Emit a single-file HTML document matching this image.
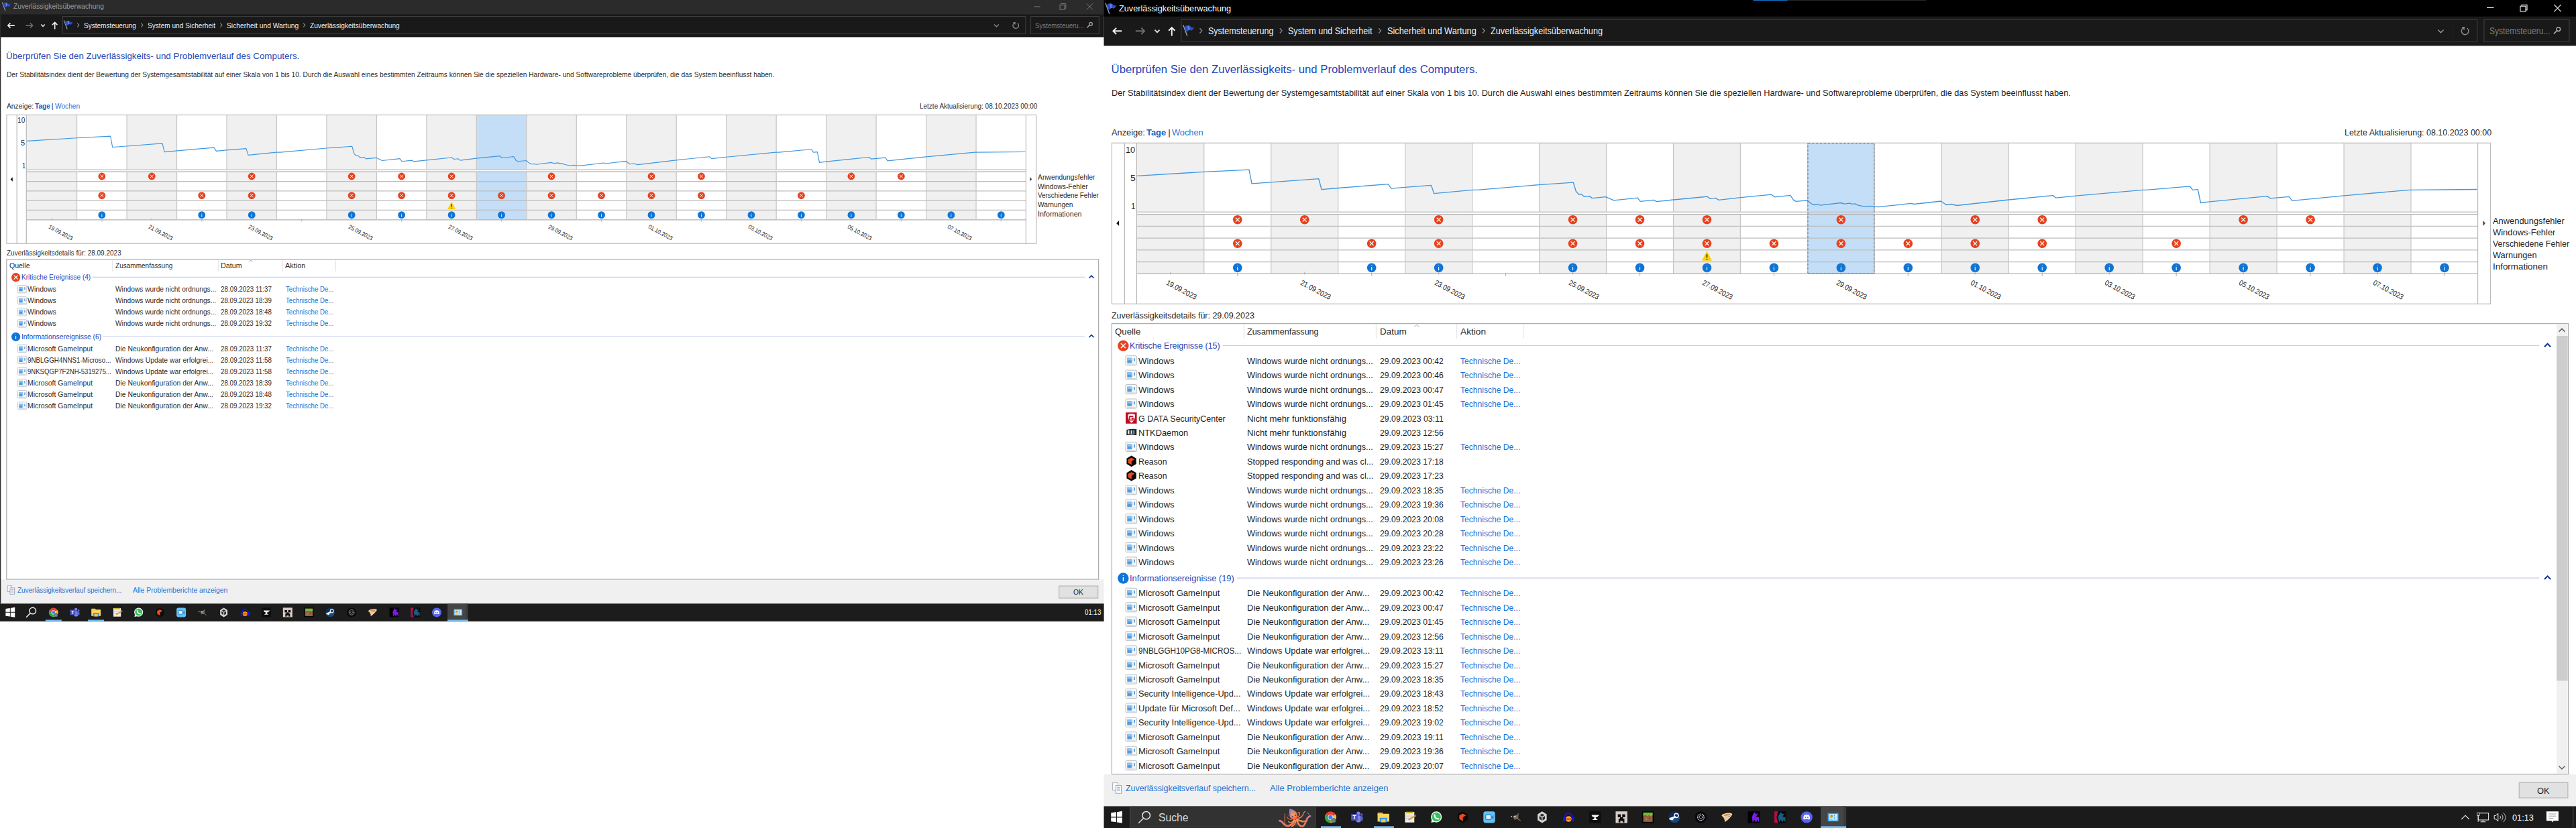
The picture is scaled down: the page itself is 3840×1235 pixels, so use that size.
<!DOCTYPE html>
<html lang="de"><head><meta charset="utf-8"><title>Zuverlässigkeitsüberwachung</title>
<style>
html,body{margin:0;padding:0;background:#fff;}
body{width:3840px;height:1235px;position:relative;overflow:hidden;font-family:"Liberation Sans", sans-serif;}
#g{position:absolute;left:0;top:0;}
.t{position:absolute;white-space:nowrap;line-height:1;transform-origin:0 50%;}
.b{font-weight:bold;}
</style></head><body>
<svg id="g" width="3840" height="1235" viewBox="0 0 3840 1235">
<rect x="0.00" y="0.00" width="1645.60" height="55.40" fill="#191919" />
<rect x="0.00" y="0.00" width="1645.60" height="21.40" fill="#2b2b2b" />
<rect x="0.00" y="864.20" width="1645.60" height="37.10" fill="#f0f0f0" />
<rect x="0.00" y="900.30" width="1645.60" height="26.50" fill="#1c1c1c" />
<rect x="0.00" y="0.00" width="1.30" height="900.30" fill="#2a2a2a" />
<path d="M3.45 3.86L7.78 15.68" fill="none" stroke="#9aa0a8" stroke-width="1.122" stroke-linecap="round"/>
<path d="M4.32 5.71Q6.96 3.86 9.60 3.86Q11.18 4.13 12.50 5.84Q14.22 6.90 16.20 6.11Q14.62 9.14 12.90 10.07Q11.58 8.62 10.13 9.14Q8.54 10.20 7.09 11.78Z" fill="#2c4ec6" stroke="none" stroke-width="1" />
<path d="M8.28 4.13L10.39 4.52L10.92 8.88L9.20 9.80Z" fill="#6f8ff0" stroke="none" stroke-width="1" opacity="0.75"/>
<line x1="1541.60" y1="9.90" x2="1550.60" y2="9.90" stroke="#7a7a7a" stroke-width="1.0" />
<rect x="1580.00" y="7.36" width="7.04" height="6.84" fill="none" stroke="#7a7a7a" stroke-width="1.0"/>
<path d="M1581.76 7.36L1581.76 5.60L1588.80 5.60L1588.80 12.44L1587.04 12.44" fill="none" stroke="#7a7a7a" stroke-width="1.0" />
<path d="M1619.90 5.40L1628.90 14.40M1628.90 5.40L1619.90 14.40" fill="none" stroke="#7a7a7a" stroke-width="1.0" />
<path d="M21.80 37.90L11.80 37.90M15.50 34.20L11.80 37.90L15.50 41.60" fill="none" stroke="#f2f2f2" stroke-width="1.6" stroke-linejoin="miter"/>
<path d="M38.50 37.90L48.70 37.90M45.00 34.20L48.70 37.90L45.00 41.60" fill="none" stroke="#6d6d6d" stroke-width="1.6" />
<path d="M61.20 36.50L64.00 39.30L66.80 36.50" fill="none" stroke="#e0e0e0" stroke-width="1.6" />
<path d="M81.70 43.60L81.70 33.40M77.93 37.17L81.70 33.40L85.47 37.17" fill="none" stroke="#f2f2f2" stroke-width="1.6" />
<rect x="93.20" y="24.60" width="1435.80" height="25.90" fill="#191919" stroke="#424242" stroke-width="1"/>
<path d="M95.47 30.67L99.96 42.94" fill="none" stroke="#9aa0a8" stroke-width="1.1645" stroke-linecap="round"/>
<path d="M96.37 32.59Q99.11 30.67 101.85 30.67Q103.49 30.95 104.86 32.73Q106.64 33.82 108.70 33.00Q107.06 36.15 105.28 37.11Q103.91 35.61 102.40 36.15Q100.75 37.25 99.25 38.89Z" fill="#2c4ec6" stroke="none" stroke-width="1" />
<path d="M100.48 30.95L102.67 31.36L103.22 35.88L101.44 36.84Z" fill="#6f8ff0" stroke="none" stroke-width="1" opacity="0.75"/>
<path d="M115.20 34.65L117.81 37.55L115.20 40.45" fill="none" stroke="#8a8a8a" stroke-width="1.1199999999999999" />
<path d="M210.40 34.65L213.01 37.55L210.40 40.45" fill="none" stroke="#8a8a8a" stroke-width="1.1199999999999999" />
<path d="M328.40 34.65L331.01 37.55L328.40 40.45" fill="none" stroke="#8a8a8a" stroke-width="1.1199999999999999" />
<path d="M452.20 34.65L454.81 37.55L452.20 40.45" fill="none" stroke="#8a8a8a" stroke-width="1.1199999999999999" />
<path d="M1482.00 36.55L1485.40 39.95L1488.80 36.55" fill="none" stroke="#909090" stroke-width="1.2800000000000002" />
<line x1="1499.40" y1="25.60" x2="1499.40" y2="49.50" stroke="#1e1e1e" stroke-width="1" />
<path d="M1516.67 34.53A4.30 4.30 0 1 1 1511.53 34.70" fill="none" stroke="#8c8c8c" stroke-width="1.2480000000000002" />
<path d="M1509.99 33.15L1513.77 32.98L1513.34 36.93Z" fill="#8c8c8c" stroke="none" stroke-width="1" />
<rect x="1536.60" y="24.60" width="101.70" height="25.90" fill="#191919" stroke="#424242" stroke-width="1"/>
<circle cx="1626.05" cy="35.70" r="2.29" fill="none" stroke="#a8a8a8" stroke-width="1.2800000000000002"/>
<line x1="1624.38" y1="37.36" x2="1620.50" y2="41.25" stroke="#a8a8a8" stroke-width="1.4400000000000002" />
<rect x="40.13" y="171.40" width="74.47" height="81.90" fill="#f0f0f0" />
<rect x="40.13" y="256.20" width="74.47" height="71.60" fill="#f0f0f0" />
<rect x="189.07" y="171.40" width="74.47" height="81.90" fill="#f0f0f0" />
<rect x="189.07" y="256.20" width="74.47" height="71.60" fill="#f0f0f0" />
<rect x="338.01" y="171.40" width="74.47" height="81.90" fill="#f0f0f0" />
<rect x="338.01" y="256.20" width="74.47" height="71.60" fill="#f0f0f0" />
<rect x="486.95" y="171.40" width="74.47" height="81.90" fill="#f0f0f0" />
<rect x="486.95" y="256.20" width="74.47" height="71.60" fill="#f0f0f0" />
<rect x="635.89" y="171.40" width="74.47" height="81.90" fill="#f0f0f0" />
<rect x="635.89" y="256.20" width="74.47" height="71.60" fill="#f0f0f0" />
<rect x="784.83" y="171.40" width="74.47" height="81.90" fill="#f0f0f0" />
<rect x="784.83" y="256.20" width="74.47" height="71.60" fill="#f0f0f0" />
<rect x="933.77" y="171.40" width="74.47" height="81.90" fill="#f0f0f0" />
<rect x="933.77" y="256.20" width="74.47" height="71.60" fill="#f0f0f0" />
<rect x="1082.71" y="171.40" width="74.47" height="81.90" fill="#f0f0f0" />
<rect x="1082.71" y="256.20" width="74.47" height="71.60" fill="#f0f0f0" />
<rect x="1231.65" y="171.40" width="74.47" height="81.90" fill="#f0f0f0" />
<rect x="1231.65" y="256.20" width="74.47" height="71.60" fill="#f0f0f0" />
<rect x="1380.59" y="171.40" width="74.47" height="81.90" fill="#f0f0f0" />
<rect x="1380.59" y="256.20" width="74.47" height="71.60" fill="#f0f0f0" />
<rect x="710.36" y="171.40" width="74.47" height="81.90" fill="#c3def6" />
<rect x="710.36" y="256.20" width="74.47" height="71.60" fill="#c3def6" />
<line x1="39.30" y1="253.30" x2="1529.40" y2="253.30" stroke="#c6c6c6" stroke-width="1.4" />
<line x1="39.30" y1="256.20" x2="1529.40" y2="256.20" stroke="#b0b0b0" stroke-width="1.25" />
<line x1="39.30" y1="270.52" x2="1529.40" y2="270.52" stroke="#bdbdbd" stroke-width="1.25" />
<line x1="39.30" y1="284.84" x2="1529.40" y2="284.84" stroke="#bdbdbd" stroke-width="1.25" />
<line x1="39.30" y1="299.16" x2="1529.40" y2="299.16" stroke="#bdbdbd" stroke-width="1.25" />
<line x1="39.30" y1="313.48" x2="1529.40" y2="313.48" stroke="#bdbdbd" stroke-width="1.25" />
<line x1="39.30" y1="327.80" x2="1529.40" y2="327.80" stroke="#b0b0b0" stroke-width="1.25" />
<line x1="114.60" y1="171.40" x2="114.60" y2="253.30" stroke="#c6c6c6" stroke-width="1.2" />
<line x1="114.60" y1="256.20" x2="114.60" y2="327.80" stroke="#c6c6c6" stroke-width="1.2" />
<line x1="189.07" y1="171.40" x2="189.07" y2="253.30" stroke="#c6c6c6" stroke-width="1.2" />
<line x1="189.07" y1="256.20" x2="189.07" y2="327.80" stroke="#c6c6c6" stroke-width="1.2" />
<line x1="263.54" y1="171.40" x2="263.54" y2="253.30" stroke="#c6c6c6" stroke-width="1.2" />
<line x1="263.54" y1="256.20" x2="263.54" y2="327.80" stroke="#c6c6c6" stroke-width="1.2" />
<line x1="338.01" y1="171.40" x2="338.01" y2="253.30" stroke="#c6c6c6" stroke-width="1.2" />
<line x1="338.01" y1="256.20" x2="338.01" y2="327.80" stroke="#c6c6c6" stroke-width="1.2" />
<line x1="412.48" y1="171.40" x2="412.48" y2="253.30" stroke="#c6c6c6" stroke-width="1.2" />
<line x1="412.48" y1="256.20" x2="412.48" y2="327.80" stroke="#c6c6c6" stroke-width="1.2" />
<line x1="486.95" y1="171.40" x2="486.95" y2="253.30" stroke="#c6c6c6" stroke-width="1.2" />
<line x1="486.95" y1="256.20" x2="486.95" y2="327.80" stroke="#c6c6c6" stroke-width="1.2" />
<line x1="561.42" y1="171.40" x2="561.42" y2="253.30" stroke="#c6c6c6" stroke-width="1.2" />
<line x1="561.42" y1="256.20" x2="561.42" y2="327.80" stroke="#c6c6c6" stroke-width="1.2" />
<line x1="635.89" y1="171.40" x2="635.89" y2="253.30" stroke="#c6c6c6" stroke-width="1.2" />
<line x1="635.89" y1="256.20" x2="635.89" y2="327.80" stroke="#c6c6c6" stroke-width="1.2" />
<line x1="710.36" y1="171.40" x2="710.36" y2="253.30" stroke="#c6c6c6" stroke-width="1.2" />
<line x1="710.36" y1="256.20" x2="710.36" y2="327.80" stroke="#c6c6c6" stroke-width="1.2" />
<line x1="784.83" y1="171.40" x2="784.83" y2="253.30" stroke="#c6c6c6" stroke-width="1.2" />
<line x1="784.83" y1="256.20" x2="784.83" y2="327.80" stroke="#c6c6c6" stroke-width="1.2" />
<line x1="859.30" y1="171.40" x2="859.30" y2="253.30" stroke="#c6c6c6" stroke-width="1.2" />
<line x1="859.30" y1="256.20" x2="859.30" y2="327.80" stroke="#c6c6c6" stroke-width="1.2" />
<line x1="933.77" y1="171.40" x2="933.77" y2="253.30" stroke="#c6c6c6" stroke-width="1.2" />
<line x1="933.77" y1="256.20" x2="933.77" y2="327.80" stroke="#c6c6c6" stroke-width="1.2" />
<line x1="1008.24" y1="171.40" x2="1008.24" y2="253.30" stroke="#c6c6c6" stroke-width="1.2" />
<line x1="1008.24" y1="256.20" x2="1008.24" y2="327.80" stroke="#c6c6c6" stroke-width="1.2" />
<line x1="1082.71" y1="171.40" x2="1082.71" y2="253.30" stroke="#c6c6c6" stroke-width="1.2" />
<line x1="1082.71" y1="256.20" x2="1082.71" y2="327.80" stroke="#c6c6c6" stroke-width="1.2" />
<line x1="1157.18" y1="171.40" x2="1157.18" y2="253.30" stroke="#c6c6c6" stroke-width="1.2" />
<line x1="1157.18" y1="256.20" x2="1157.18" y2="327.80" stroke="#c6c6c6" stroke-width="1.2" />
<line x1="1231.65" y1="171.40" x2="1231.65" y2="253.30" stroke="#c6c6c6" stroke-width="1.2" />
<line x1="1231.65" y1="256.20" x2="1231.65" y2="327.80" stroke="#c6c6c6" stroke-width="1.2" />
<line x1="1306.12" y1="171.40" x2="1306.12" y2="253.30" stroke="#c6c6c6" stroke-width="1.2" />
<line x1="1306.12" y1="256.20" x2="1306.12" y2="327.80" stroke="#c6c6c6" stroke-width="1.2" />
<line x1="1380.59" y1="171.40" x2="1380.59" y2="253.30" stroke="#c6c6c6" stroke-width="1.2" />
<line x1="1380.59" y1="256.20" x2="1380.59" y2="327.80" stroke="#c6c6c6" stroke-width="1.2" />
<line x1="1455.06" y1="171.40" x2="1455.06" y2="253.30" stroke="#c6c6c6" stroke-width="1.2" />
<line x1="1455.06" y1="256.20" x2="1455.06" y2="327.80" stroke="#c6c6c6" stroke-width="1.2" />
<rect x="10.00" y="171.40" width="1534.60" height="191.80" fill="none" stroke="#bcbcbc" stroke-width="1.25"/>
<line x1="25.20" y1="171.40" x2="25.20" y2="363.20" stroke="#b8b8b8" stroke-width="1.2" />
<line x1="39.30" y1="171.40" x2="39.30" y2="363.20" stroke="#b8b8b8" stroke-width="1.2" />
<line x1="1529.40" y1="171.40" x2="1529.40" y2="363.20" stroke="#b8b8b8" stroke-width="1.2" />
<path d="M39.79 210.40L114.71 205.70L164.61 203.16L167.73 219.55L188.66 217.96L241.98 213.90L245.18 226.64L263.50 224.89L319.13 220.19L322.41 225.36L337.60 223.93L366.94 221.62L370.07 231.41L412.29 227.11L417.88 227.11L486.61 220.99L524.74 218.28L527.80 228.87L530.92 232.45L533.61 232.05L536.96 235.15L542.69 234.52L545.67 236.90L560.71 235.31L569.72 239.45L596.16 236.59L599.14 240.72L614.03 239.13L617.24 240.88L635.85 238.81L673.46 234.99L676.89 237.54L682.77 236.74L686.19 239.13L710.25 236.11L744.95 232.61L748.30 235.47L765.88 233.56L769.23 239.13L772.06 240.72L784.35 239.45L789.63 243.83L792.61 244.78L796.26 244.54L799.24 245.26L822.10 242.40L825.53 243.67L831.56 242.87L834.61 243.83L837.59 243.51L840.87 245.26L849.58 247.01L854.87 246.22L858.67 246.85L863.88 247.33L900.00 243.03L902.98 243.99L933.06 240.41L938.72 244.78L944.31 243.99L950.79 245.58L1008.20 238.81L1057.50 233.72L1060.85 236.59L1082.60 234.20L1156.99 227.11L1161.09 227.11L1209.50 222.74L1212.62 227.11L1218.36 226.64L1221.48 242.40L1231.46 241.12L1295.36 234.52L1298.64 237.06L1319.71 235.15L1323.14 239.93L1380.55 233.88L1453.46 227.11L1528.45 226.48" fill="none" stroke="#3f97e0" stroke-width="1.15" stroke-linejoin="round"/>
<circle cx="151.84" cy="262.96" r="5.40" fill="#e8411d"/>
<path d="M149.51 260.64L154.16 265.28M154.16 260.64L149.51 265.28" fill="none" stroke="#fff" stroke-width="1.0" />
<circle cx="226.31" cy="262.96" r="5.40" fill="#e8411d"/>
<path d="M223.98 260.64L228.63 265.28M228.63 260.64L223.98 265.28" fill="none" stroke="#fff" stroke-width="1.0" />
<circle cx="375.25" cy="262.96" r="5.40" fill="#e8411d"/>
<path d="M372.92 260.64L377.57 265.28M377.57 260.64L372.92 265.28" fill="none" stroke="#fff" stroke-width="1.0" />
<circle cx="524.19" cy="262.96" r="5.40" fill="#e8411d"/>
<path d="M521.86 260.64L526.51 265.28M526.51 260.64L521.86 265.28" fill="none" stroke="#fff" stroke-width="1.0" />
<circle cx="598.65" cy="262.96" r="5.40" fill="#e8411d"/>
<path d="M596.33 260.64L600.98 265.28M600.98 260.64L596.33 265.28" fill="none" stroke="#fff" stroke-width="1.0" />
<circle cx="673.12" cy="262.96" r="5.40" fill="#e8411d"/>
<path d="M670.80 260.64L675.45 265.28M675.45 260.64L670.80 265.28" fill="none" stroke="#fff" stroke-width="1.0" />
<circle cx="822.06" cy="262.96" r="5.40" fill="#e8411d"/>
<path d="M819.74 260.64L824.39 265.28M824.39 260.64L819.74 265.28" fill="none" stroke="#fff" stroke-width="1.0" />
<circle cx="971.00" cy="262.96" r="5.40" fill="#e8411d"/>
<path d="M968.68 260.64L973.33 265.28M973.33 260.64L968.68 265.28" fill="none" stroke="#fff" stroke-width="1.0" />
<circle cx="1045.48" cy="262.96" r="5.40" fill="#e8411d"/>
<path d="M1043.15 260.64L1047.80 265.28M1047.80 260.64L1043.15 265.28" fill="none" stroke="#fff" stroke-width="1.0" />
<circle cx="1268.88" cy="262.96" r="5.40" fill="#e8411d"/>
<path d="M1266.56 260.64L1271.21 265.28M1271.21 260.64L1266.56 265.28" fill="none" stroke="#fff" stroke-width="1.0" />
<circle cx="1343.36" cy="262.96" r="5.40" fill="#e8411d"/>
<path d="M1341.03 260.64L1345.68 265.28M1345.68 260.64L1341.03 265.28" fill="none" stroke="#fff" stroke-width="1.0" />
<circle cx="151.84" cy="291.60" r="5.40" fill="#e8411d"/>
<path d="M149.51 289.28L154.16 293.92M154.16 289.28L149.51 293.92" fill="none" stroke="#fff" stroke-width="1.0" />
<circle cx="300.77" cy="291.60" r="5.40" fill="#e8411d"/>
<path d="M298.45 289.28L303.10 293.92M303.10 289.28L298.45 293.92" fill="none" stroke="#fff" stroke-width="1.0" />
<circle cx="375.25" cy="291.60" r="5.40" fill="#e8411d"/>
<path d="M372.92 289.28L377.57 293.92M377.57 289.28L372.92 293.92" fill="none" stroke="#fff" stroke-width="1.0" />
<circle cx="524.19" cy="291.60" r="5.40" fill="#e8411d"/>
<path d="M521.86 289.28L526.51 293.92M526.51 289.28L521.86 293.92" fill="none" stroke="#fff" stroke-width="1.0" />
<circle cx="598.65" cy="291.60" r="5.40" fill="#e8411d"/>
<path d="M596.33 289.28L600.98 293.92M600.98 289.28L596.33 293.92" fill="none" stroke="#fff" stroke-width="1.0" />
<circle cx="673.12" cy="291.60" r="5.40" fill="#e8411d"/>
<path d="M670.80 289.28L675.45 293.92M675.45 289.28L670.80 293.92" fill="none" stroke="#fff" stroke-width="1.0" />
<circle cx="747.60" cy="291.60" r="5.40" fill="#e8411d"/>
<path d="M745.27 289.28L749.92 293.92M749.92 289.28L745.27 293.92" fill="none" stroke="#fff" stroke-width="1.0" />
<circle cx="822.06" cy="291.60" r="5.40" fill="#e8411d"/>
<path d="M819.74 289.28L824.39 293.92M824.39 289.28L819.74 293.92" fill="none" stroke="#fff" stroke-width="1.0" />
<circle cx="896.53" cy="291.60" r="5.40" fill="#e8411d"/>
<path d="M894.21 289.28L898.86 293.92M898.86 289.28L894.21 293.92" fill="none" stroke="#fff" stroke-width="1.0" />
<circle cx="971.00" cy="291.60" r="5.40" fill="#e8411d"/>
<path d="M968.68 289.28L973.33 293.92M973.33 289.28L968.68 293.92" fill="none" stroke="#fff" stroke-width="1.0" />
<circle cx="1045.48" cy="291.60" r="5.40" fill="#e8411d"/>
<path d="M1043.15 289.28L1047.80 293.92M1047.80 289.28L1043.15 293.92" fill="none" stroke="#fff" stroke-width="1.0" />
<circle cx="1194.42" cy="291.60" r="5.40" fill="#e8411d"/>
<path d="M1192.09 289.28L1196.74 293.92M1196.74 289.28L1192.09 293.92" fill="none" stroke="#fff" stroke-width="1.0" />
<path d="M673.12 300.45L679.07 312.06L667.18 312.06Z" fill="#fbcf0a" stroke="none" stroke-width="1" />
<path d="M673.12 304.50L673.12 308.55" fill="none" stroke="#1a1a1a" stroke-width="1.1880000000000002" />
<circle cx="673.12" cy="310.33" r="0.70" fill="#1a1a1a"/>
<circle cx="151.84" cy="320.64" r="5.40" fill="#0f74d6"/>
<path d="M151.84 319.67L151.84 323.61" fill="none" stroke="#f4f9ff" stroke-width="0.9180000000000001" />
<circle cx="151.84" cy="317.94" r="0.46" fill="#e8f2fc"/>
<circle cx="300.77" cy="320.64" r="5.40" fill="#0f74d6"/>
<path d="M300.77 319.67L300.77 323.61" fill="none" stroke="#f4f9ff" stroke-width="0.9180000000000001" />
<circle cx="300.77" cy="317.94" r="0.46" fill="#e8f2fc"/>
<circle cx="375.25" cy="320.64" r="5.40" fill="#0f74d6"/>
<path d="M375.25 319.67L375.25 323.61" fill="none" stroke="#f4f9ff" stroke-width="0.9180000000000001" />
<circle cx="375.25" cy="317.94" r="0.46" fill="#e8f2fc"/>
<circle cx="524.19" cy="320.64" r="5.40" fill="#0f74d6"/>
<path d="M524.19 319.67L524.19 323.61" fill="none" stroke="#f4f9ff" stroke-width="0.9180000000000001" />
<circle cx="524.19" cy="317.94" r="0.46" fill="#e8f2fc"/>
<circle cx="598.65" cy="320.64" r="5.40" fill="#0f74d6"/>
<path d="M598.65 319.67L598.65 323.61" fill="none" stroke="#f4f9ff" stroke-width="0.9180000000000001" />
<circle cx="598.65" cy="317.94" r="0.46" fill="#e8f2fc"/>
<circle cx="673.12" cy="320.64" r="5.40" fill="#0f74d6"/>
<path d="M673.12 319.67L673.12 323.61" fill="none" stroke="#f4f9ff" stroke-width="0.9180000000000001" />
<circle cx="673.12" cy="317.94" r="0.46" fill="#e8f2fc"/>
<circle cx="747.60" cy="320.64" r="5.40" fill="#0f74d6"/>
<path d="M747.60 319.67L747.60 323.61" fill="none" stroke="#f4f9ff" stroke-width="0.9180000000000001" />
<circle cx="747.60" cy="317.94" r="0.46" fill="#e8f2fc"/>
<circle cx="822.06" cy="320.64" r="5.40" fill="#0f74d6"/>
<path d="M822.06 319.67L822.06 323.61" fill="none" stroke="#f4f9ff" stroke-width="0.9180000000000001" />
<circle cx="822.06" cy="317.94" r="0.46" fill="#e8f2fc"/>
<circle cx="896.53" cy="320.64" r="5.40" fill="#0f74d6"/>
<path d="M896.53 319.67L896.53 323.61" fill="none" stroke="#f4f9ff" stroke-width="0.9180000000000001" />
<circle cx="896.53" cy="317.94" r="0.46" fill="#e8f2fc"/>
<circle cx="971.00" cy="320.64" r="5.40" fill="#0f74d6"/>
<path d="M971.00 319.67L971.00 323.61" fill="none" stroke="#f4f9ff" stroke-width="0.9180000000000001" />
<circle cx="971.00" cy="317.94" r="0.46" fill="#e8f2fc"/>
<circle cx="1045.48" cy="320.64" r="5.40" fill="#0f74d6"/>
<path d="M1045.48 319.67L1045.48 323.61" fill="none" stroke="#f4f9ff" stroke-width="0.9180000000000001" />
<circle cx="1045.48" cy="317.94" r="0.46" fill="#e8f2fc"/>
<circle cx="1119.95" cy="320.64" r="5.40" fill="#0f74d6"/>
<path d="M1119.95 319.67L1119.95 323.61" fill="none" stroke="#f4f9ff" stroke-width="0.9180000000000001" />
<circle cx="1119.95" cy="317.94" r="0.46" fill="#e8f2fc"/>
<circle cx="1194.42" cy="320.64" r="5.40" fill="#0f74d6"/>
<path d="M1194.42 319.67L1194.42 323.61" fill="none" stroke="#f4f9ff" stroke-width="0.9180000000000001" />
<circle cx="1194.42" cy="317.94" r="0.46" fill="#e8f2fc"/>
<circle cx="1268.88" cy="320.64" r="5.40" fill="#0f74d6"/>
<path d="M1268.88 319.67L1268.88 323.61" fill="none" stroke="#f4f9ff" stroke-width="0.9180000000000001" />
<circle cx="1268.88" cy="317.94" r="0.46" fill="#e8f2fc"/>
<circle cx="1343.36" cy="320.64" r="5.40" fill="#0f74d6"/>
<path d="M1343.36 319.67L1343.36 323.61" fill="none" stroke="#f4f9ff" stroke-width="0.9180000000000001" />
<circle cx="1343.36" cy="317.94" r="0.46" fill="#e8f2fc"/>
<circle cx="1417.83" cy="320.64" r="5.40" fill="#0f74d6"/>
<path d="M1417.83 319.67L1417.83 323.61" fill="none" stroke="#f4f9ff" stroke-width="0.9180000000000001" />
<circle cx="1417.83" cy="317.94" r="0.46" fill="#e8f2fc"/>
<circle cx="1492.30" cy="320.64" r="5.40" fill="#0f74d6"/>
<path d="M1492.30 319.67L1492.30 323.61" fill="none" stroke="#f4f9ff" stroke-width="0.9180000000000001" />
<circle cx="1492.30" cy="317.94" r="0.46" fill="#e8f2fc"/>
<line x1="77.37" y1="325.56" x2="77.37" y2="328.81" stroke="#b4b4b4" stroke-width="1.1" />
<line x1="151.84" y1="326.68" x2="151.84" y2="330.60" stroke="#b4b4b4" stroke-width="1.1" />
<line x1="226.31" y1="325.56" x2="226.31" y2="328.81" stroke="#b4b4b4" stroke-width="1.1" />
<line x1="300.77" y1="326.68" x2="300.77" y2="330.60" stroke="#b4b4b4" stroke-width="1.1" />
<line x1="375.25" y1="325.56" x2="375.25" y2="328.81" stroke="#b4b4b4" stroke-width="1.1" />
<line x1="449.71" y1="326.68" x2="449.71" y2="330.60" stroke="#b4b4b4" stroke-width="1.1" />
<line x1="524.19" y1="325.56" x2="524.19" y2="328.81" stroke="#b4b4b4" stroke-width="1.1" />
<line x1="598.65" y1="326.68" x2="598.65" y2="330.60" stroke="#b4b4b4" stroke-width="1.1" />
<line x1="673.12" y1="325.56" x2="673.12" y2="328.81" stroke="#b4b4b4" stroke-width="1.1" />
<line x1="747.60" y1="326.68" x2="747.60" y2="330.60" stroke="#b4b4b4" stroke-width="1.1" />
<line x1="822.06" y1="325.56" x2="822.06" y2="328.81" stroke="#b4b4b4" stroke-width="1.1" />
<line x1="896.53" y1="326.68" x2="896.53" y2="330.60" stroke="#b4b4b4" stroke-width="1.1" />
<line x1="971.00" y1="325.56" x2="971.00" y2="328.81" stroke="#b4b4b4" stroke-width="1.1" />
<line x1="1045.48" y1="326.68" x2="1045.48" y2="330.60" stroke="#b4b4b4" stroke-width="1.1" />
<line x1="1119.95" y1="325.56" x2="1119.95" y2="328.81" stroke="#b4b4b4" stroke-width="1.1" />
<line x1="1194.42" y1="326.68" x2="1194.42" y2="330.60" stroke="#b4b4b4" stroke-width="1.1" />
<line x1="1268.88" y1="325.56" x2="1268.88" y2="328.81" stroke="#b4b4b4" stroke-width="1.1" />
<line x1="1343.36" y1="326.68" x2="1343.36" y2="330.60" stroke="#b4b4b4" stroke-width="1.1" />
<line x1="1417.83" y1="325.56" x2="1417.83" y2="328.81" stroke="#b4b4b4" stroke-width="1.1" />
<line x1="1492.30" y1="326.68" x2="1492.30" y2="330.60" stroke="#b4b4b4" stroke-width="1.1" />
<path d="M18.80 264.30L15.60 267.50L18.80 270.70Z" fill="#111" stroke="none" stroke-width="1" />
<path d="M1535.20 264.10L1538.40 267.30L1535.20 270.50Z" fill="#555" stroke="none" stroke-width="1" />
<rect x="9.80" y="387.00" width="1627.80" height="477.00" fill="#fff" stroke="#acacac" stroke-width="1.2"/>
<line x1="167.70" y1="388.50" x2="167.70" y2="404.80" stroke="#e5e5e5" stroke-width="1.2" />
<line x1="325.70" y1="388.50" x2="325.70" y2="404.80" stroke="#e5e5e5" stroke-width="1.2" />
<line x1="421.50" y1="388.50" x2="421.50" y2="404.80" stroke="#e5e5e5" stroke-width="1.2" />
<line x1="500.30" y1="388.50" x2="500.30" y2="404.80" stroke="#e5e5e5" stroke-width="1.2" />
<path d="M371.10 390.85L373.80 388.15L376.50 390.85" fill="none" stroke="#9a9a9a" stroke-width="0.9" />
<circle cx="23.60" cy="413.70" r="6.60" fill="#e8411d"/>
<path d="M20.76 410.86L26.44 416.54M26.44 410.86L20.76 416.54" fill="none" stroke="#fff" stroke-width="1.188" />
<line x1="137.50" y1="413.40" x2="1617.00" y2="413.40" stroke="#c3cdec" stroke-width="1.2" />
<path d="M1623.40 414.70L1627.00 411.10L1630.60 414.70" fill="none" stroke="#0a2f9c" stroke-width="1.6" />
<rect x="26.40" y="425.51" width="13.40" height="11.39" rx="1.21" fill="#f7f9fa" stroke="#b3b9c0" stroke-width="0.74"/>
<rect x="28.28" y="428.01" width="5.36" height="6.26" fill="#4f9be0"/>
<rect x="28.28" y="428.01" width="5.36" height="2.85" fill="#8cc0ee"/>
<rect x="36.18" y="428.35" width="1.47" height="3.76" fill="#5aa3e6"/>
<rect x="34.44" y="428.35" width="0.94" height="5.13" fill="#d5dde6"/>
<rect x="28.01" y="435.07" width="10.18" height="0.80" fill="#c9d0d8"/>
<rect x="26.40" y="442.61" width="13.40" height="11.39" rx="1.21" fill="#f7f9fa" stroke="#b3b9c0" stroke-width="0.74"/>
<rect x="28.28" y="445.11" width="5.36" height="6.26" fill="#4f9be0"/>
<rect x="28.28" y="445.11" width="5.36" height="2.85" fill="#8cc0ee"/>
<rect x="36.18" y="445.45" width="1.47" height="3.76" fill="#5aa3e6"/>
<rect x="34.44" y="445.45" width="0.94" height="5.13" fill="#d5dde6"/>
<rect x="28.01" y="452.17" width="10.18" height="0.80" fill="#c9d0d8"/>
<rect x="26.40" y="459.71" width="13.40" height="11.39" rx="1.21" fill="#f7f9fa" stroke="#b3b9c0" stroke-width="0.74"/>
<rect x="28.28" y="462.21" width="5.36" height="6.26" fill="#4f9be0"/>
<rect x="28.28" y="462.21" width="5.36" height="2.85" fill="#8cc0ee"/>
<rect x="36.18" y="462.55" width="1.47" height="3.76" fill="#5aa3e6"/>
<rect x="34.44" y="462.55" width="0.94" height="5.13" fill="#d5dde6"/>
<rect x="28.01" y="469.27" width="10.18" height="0.80" fill="#c9d0d8"/>
<rect x="26.40" y="476.81" width="13.40" height="11.39" rx="1.21" fill="#f7f9fa" stroke="#b3b9c0" stroke-width="0.74"/>
<rect x="28.28" y="479.31" width="5.36" height="6.26" fill="#4f9be0"/>
<rect x="28.28" y="479.31" width="5.36" height="2.85" fill="#8cc0ee"/>
<rect x="36.18" y="479.65" width="1.47" height="3.76" fill="#5aa3e6"/>
<rect x="34.44" y="479.65" width="0.94" height="5.13" fill="#d5dde6"/>
<rect x="28.01" y="486.37" width="10.18" height="0.80" fill="#c9d0d8"/>
<circle cx="23.60" cy="502.30" r="6.60" fill="#0f74d6"/>
<path d="M23.60 501.11L23.60 505.93" fill="none" stroke="#f4f9ff" stroke-width="1.122" />
<circle cx="23.60" cy="499.00" r="0.56" fill="#e8f2fc"/>
<line x1="153.50" y1="502.00" x2="1617.00" y2="502.00" stroke="#c3cdec" stroke-width="1.2" />
<path d="M1623.40 503.30L1627.00 499.70L1630.60 503.30" fill="none" stroke="#0a2f9c" stroke-width="1.6" />
<rect x="26.40" y="514.11" width="13.40" height="11.39" rx="1.21" fill="#f7f9fa" stroke="#b3b9c0" stroke-width="0.74"/>
<rect x="28.28" y="516.61" width="5.36" height="6.26" fill="#4f9be0"/>
<rect x="28.28" y="516.61" width="5.36" height="2.85" fill="#8cc0ee"/>
<rect x="36.18" y="516.95" width="1.47" height="3.76" fill="#5aa3e6"/>
<rect x="34.44" y="516.95" width="0.94" height="5.13" fill="#d5dde6"/>
<rect x="28.01" y="523.67" width="10.18" height="0.80" fill="#c9d0d8"/>
<rect x="26.40" y="531.21" width="13.40" height="11.39" rx="1.21" fill="#f7f9fa" stroke="#b3b9c0" stroke-width="0.74"/>
<rect x="28.28" y="533.71" width="5.36" height="6.26" fill="#4f9be0"/>
<rect x="28.28" y="533.71" width="5.36" height="2.85" fill="#8cc0ee"/>
<rect x="36.18" y="534.05" width="1.47" height="3.76" fill="#5aa3e6"/>
<rect x="34.44" y="534.05" width="0.94" height="5.13" fill="#d5dde6"/>
<rect x="28.01" y="540.77" width="10.18" height="0.80" fill="#c9d0d8"/>
<rect x="26.40" y="548.31" width="13.40" height="11.39" rx="1.21" fill="#f7f9fa" stroke="#b3b9c0" stroke-width="0.74"/>
<rect x="28.28" y="550.81" width="5.36" height="6.26" fill="#4f9be0"/>
<rect x="28.28" y="550.81" width="5.36" height="2.85" fill="#8cc0ee"/>
<rect x="36.18" y="551.15" width="1.47" height="3.76" fill="#5aa3e6"/>
<rect x="34.44" y="551.15" width="0.94" height="5.13" fill="#d5dde6"/>
<rect x="28.01" y="557.87" width="10.18" height="0.80" fill="#c9d0d8"/>
<rect x="26.40" y="565.40" width="13.40" height="11.39" rx="1.21" fill="#f7f9fa" stroke="#b3b9c0" stroke-width="0.74"/>
<rect x="28.28" y="567.91" width="5.36" height="6.26" fill="#4f9be0"/>
<rect x="28.28" y="567.91" width="5.36" height="2.85" fill="#8cc0ee"/>
<rect x="36.18" y="568.25" width="1.47" height="3.76" fill="#5aa3e6"/>
<rect x="34.44" y="568.25" width="0.94" height="5.13" fill="#d5dde6"/>
<rect x="28.01" y="574.97" width="10.18" height="0.80" fill="#c9d0d8"/>
<rect x="26.40" y="582.50" width="13.40" height="11.39" rx="1.21" fill="#f7f9fa" stroke="#b3b9c0" stroke-width="0.74"/>
<rect x="28.28" y="585.01" width="5.36" height="6.26" fill="#4f9be0"/>
<rect x="28.28" y="585.01" width="5.36" height="2.85" fill="#8cc0ee"/>
<rect x="36.18" y="585.35" width="1.47" height="3.76" fill="#5aa3e6"/>
<rect x="34.44" y="585.35" width="0.94" height="5.13" fill="#d5dde6"/>
<rect x="28.01" y="592.07" width="10.18" height="0.80" fill="#c9d0d8"/>
<rect x="26.40" y="599.61" width="13.40" height="11.39" rx="1.21" fill="#f7f9fa" stroke="#b3b9c0" stroke-width="0.74"/>
<rect x="28.28" y="602.11" width="5.36" height="6.26" fill="#4f9be0"/>
<rect x="28.28" y="602.11" width="5.36" height="2.85" fill="#8cc0ee"/>
<rect x="36.18" y="602.45" width="1.47" height="3.76" fill="#5aa3e6"/>
<rect x="34.44" y="602.45" width="0.94" height="5.13" fill="#d5dde6"/>
<rect x="28.01" y="609.17" width="10.18" height="0.80" fill="#c9d0d8"/>
<rect x="11.20" y="873.80" width="6.48" height="8.69" fill="#fdfdfd" stroke="#9aa3ad" stroke-width="0.8"/>
<rect x="14.98" y="876.90" width="6.70" height="9.31" fill="#fdfdfd" stroke="#8d97a3" stroke-width="0.8"/>
<line x1="16.28" y1="879.39" x2="20.49" y2="879.39" stroke="#7fa6d8" stroke-width="0.9" />
<line x1="16.28" y1="881.25" x2="20.49" y2="881.25" stroke="#7fa6d8" stroke-width="0.9" />
<line x1="16.28" y1="883.12" x2="20.49" y2="883.12" stroke="#7fa6d8" stroke-width="0.9" />
<rect x="1578.70" y="874.00" width="58.10" height="18.10" fill="#e1e1e1" stroke="#adadad" stroke-width="1"/>
<rect x="1645.50" y="0.00" width="2194.50" height="68.30" fill="#191919" />
<rect x="1645.50" y="0.00" width="2194.50" height="24.60" fill="#000" />
<rect x="1645.50" y="1155.20" width="2194.50" height="48.30" fill="#f0f0f0" />
<rect x="1645.50" y="1202.50" width="2194.50" height="32.50" fill="#1b1b1b" />
<path d="M1648.08 5.04L1653.65 20.25" fill="none" stroke="#9aa0a8" stroke-width="1.445" stroke-linecap="round"/>
<path d="M1649.20 7.42Q1652.60 5.04 1656.00 5.04Q1658.04 5.38 1659.74 7.59Q1661.95 8.95 1664.50 7.93Q1662.46 11.84 1660.25 13.03Q1658.55 11.16 1656.68 11.84Q1654.64 13.20 1652.77 15.24Z" fill="#2c4ec6" stroke="none" stroke-width="1" />
<path d="M1654.30 5.38L1657.02 5.89L1657.70 11.50L1655.49 12.69Z" fill="#6f8ff0" stroke="none" stroke-width="1" opacity="0.75"/>
<line x1="3707.00" y1="11.50" x2="3717.50" y2="11.50" stroke="#f0f0f0" stroke-width="1.1" />
<rect x="3757.00" y="9.20" width="8.00" height="7.80" fill="none" stroke="#f0f0f0" stroke-width="1.1"/>
<path d="M3759.00 9.20L3759.00 7.20L3767.00 7.20L3767.00 15.00L3765.00 15.00" fill="none" stroke="#f0f0f0" stroke-width="1.1" />
<path d="M3807.30 6.95L3817.80 17.45M3817.80 6.95L3807.30 17.45" fill="none" stroke="#f0f0f0" stroke-width="1.1" />
<path d="M1672.10 46.30L1659.40 46.30M1664.10 41.60L1659.40 46.30L1664.10 51.00" fill="none" stroke="#f2f2f2" stroke-width="1.9" stroke-linejoin="miter"/>
<path d="M1692.80 46.30L1706.00 46.30M1701.30 41.60L1706.00 46.30L1701.30 51.00" fill="none" stroke="#6d6d6d" stroke-width="1.9" />
<path d="M1721.50 44.55L1725.00 48.05L1728.50 44.55" fill="none" stroke="#e0e0e0" stroke-width="1.9" />
<path d="M1746.80 53.60L1746.80 41.10M1742.17 45.73L1746.80 41.10L1751.42 45.73" fill="none" stroke="#f2f2f2" stroke-width="1.9" />
<rect x="1760.80" y="29.20" width="1932.00" height="33.30" fill="#191919" stroke="#424242" stroke-width="1"/>
<path d="M1763.98 37.84L1769.55 53.05" fill="none" stroke="#9aa0a8" stroke-width="1.445" stroke-linecap="round"/>
<path d="M1765.10 40.22Q1768.50 37.84 1771.90 37.84Q1773.94 38.18 1775.64 40.39Q1777.85 41.75 1780.40 40.73Q1778.36 44.64 1776.15 45.83Q1774.45 43.96 1772.58 44.64Q1770.54 46.00 1768.67 48.04Z" fill="#2c4ec6" stroke="none" stroke-width="1" />
<path d="M1770.20 38.18L1772.92 38.69L1773.60 44.30L1771.39 45.49Z" fill="#6f8ff0" stroke="none" stroke-width="1" opacity="0.75"/>
<path d="M1788.50 42.25L1791.74 45.85L1788.50 49.45" fill="none" stroke="#8a8a8a" stroke-width="1.3299999999999998" />
<path d="M1907.80 42.25L1911.04 45.85L1907.80 49.45" fill="none" stroke="#8a8a8a" stroke-width="1.3299999999999998" />
<path d="M2055.20 42.25L2058.44 45.85L2055.20 49.45" fill="none" stroke="#8a8a8a" stroke-width="1.3299999999999998" />
<path d="M2210.00 42.25L2213.24 45.85L2210.00 49.45" fill="none" stroke="#8a8a8a" stroke-width="1.3299999999999998" />
<path d="M3634.20 44.45L3638.40 48.65L3642.60 44.45" fill="none" stroke="#909090" stroke-width="1.52" />
<line x1="3657.00" y1="30.20" x2="3657.00" y2="61.50" stroke="#1e1e1e" stroke-width="1" />
<path d="M3677.64 42.01A5.30 5.30 0 1 1 3671.31 42.22" fill="none" stroke="#8c8c8c" stroke-width="1.482" />
<path d="M3669.41 40.31L3674.07 40.10L3673.54 44.97Z" fill="#8c8c8c" stroke="none" stroke-width="1" />
<rect x="3703.00" y="29.20" width="127.00" height="33.30" fill="#191919" stroke="#424242" stroke-width="1"/>
<circle cx="3813.80" cy="43.55" r="2.85" fill="none" stroke="#a8a8a8" stroke-width="1.52"/>
<line x1="3811.73" y1="45.62" x2="3806.90" y2="50.45" stroke="#a8a8a8" stroke-width="1.71" />
<rect x="1694.85" y="213.30" width="99.95" height="102.90" fill="#f0f0f0" />
<rect x="1694.85" y="319.50" width="99.95" height="88.80" fill="#f0f0f0" />
<rect x="1894.76" y="213.30" width="99.95" height="102.90" fill="#f0f0f0" />
<rect x="1894.76" y="319.50" width="99.95" height="88.80" fill="#f0f0f0" />
<rect x="2094.67" y="213.30" width="99.95" height="102.90" fill="#f0f0f0" />
<rect x="2094.67" y="319.50" width="99.95" height="88.80" fill="#f0f0f0" />
<rect x="2294.58" y="213.30" width="99.95" height="102.90" fill="#f0f0f0" />
<rect x="2294.58" y="319.50" width="99.95" height="88.80" fill="#f0f0f0" />
<rect x="2494.49" y="213.30" width="99.95" height="102.90" fill="#f0f0f0" />
<rect x="2494.49" y="319.50" width="99.95" height="88.80" fill="#f0f0f0" />
<rect x="2694.40" y="213.30" width="99.95" height="102.90" fill="#f0f0f0" />
<rect x="2694.40" y="319.50" width="99.95" height="88.80" fill="#f0f0f0" />
<rect x="2894.31" y="213.30" width="99.95" height="102.90" fill="#f0f0f0" />
<rect x="2894.31" y="319.50" width="99.95" height="88.80" fill="#f0f0f0" />
<rect x="3094.22" y="213.30" width="99.95" height="102.90" fill="#f0f0f0" />
<rect x="3094.22" y="319.50" width="99.95" height="88.80" fill="#f0f0f0" />
<rect x="3294.13" y="213.30" width="99.95" height="102.90" fill="#f0f0f0" />
<rect x="3294.13" y="319.50" width="99.95" height="88.80" fill="#f0f0f0" />
<rect x="3494.04" y="213.30" width="99.95" height="102.90" fill="#f0f0f0" />
<rect x="3494.04" y="319.50" width="99.95" height="88.80" fill="#f0f0f0" />
<rect x="2694.40" y="213.30" width="99.95" height="102.90" fill="#c3def6" />
<rect x="2694.40" y="319.50" width="99.95" height="88.80" fill="#c3def6" />
<rect x="2694.40" y="316.20" width="99.95" height="3.30" fill="#c3def6" />
<line x1="1694.40" y1="316.20" x2="3693.60" y2="316.20" stroke="#c6c6c6" stroke-width="1.4" />
<line x1="1694.40" y1="319.50" x2="3693.60" y2="319.50" stroke="#b0b0b0" stroke-width="1.25" />
<line x1="1694.40" y1="337.26" x2="3693.60" y2="337.26" stroke="#bdbdbd" stroke-width="1.25" />
<line x1="1694.40" y1="355.02" x2="3693.60" y2="355.02" stroke="#bdbdbd" stroke-width="1.25" />
<line x1="1694.40" y1="372.78" x2="3693.60" y2="372.78" stroke="#bdbdbd" stroke-width="1.25" />
<line x1="1694.40" y1="390.54" x2="3693.60" y2="390.54" stroke="#bdbdbd" stroke-width="1.25" />
<line x1="1694.40" y1="408.30" x2="3693.60" y2="408.30" stroke="#b0b0b0" stroke-width="1.25" />
<line x1="1794.80" y1="213.30" x2="1794.80" y2="316.20" stroke="#c6c6c6" stroke-width="1.2" />
<line x1="1794.80" y1="319.50" x2="1794.80" y2="408.30" stroke="#c6c6c6" stroke-width="1.2" />
<line x1="1894.76" y1="213.30" x2="1894.76" y2="316.20" stroke="#c6c6c6" stroke-width="1.2" />
<line x1="1894.76" y1="319.50" x2="1894.76" y2="408.30" stroke="#c6c6c6" stroke-width="1.2" />
<line x1="1994.71" y1="213.30" x2="1994.71" y2="316.20" stroke="#c6c6c6" stroke-width="1.2" />
<line x1="1994.71" y1="319.50" x2="1994.71" y2="408.30" stroke="#c6c6c6" stroke-width="1.2" />
<line x1="2094.67" y1="213.30" x2="2094.67" y2="316.20" stroke="#c6c6c6" stroke-width="1.2" />
<line x1="2094.67" y1="319.50" x2="2094.67" y2="408.30" stroke="#c6c6c6" stroke-width="1.2" />
<line x1="2194.62" y1="213.30" x2="2194.62" y2="316.20" stroke="#c6c6c6" stroke-width="1.2" />
<line x1="2194.62" y1="319.50" x2="2194.62" y2="408.30" stroke="#c6c6c6" stroke-width="1.2" />
<line x1="2294.58" y1="213.30" x2="2294.58" y2="316.20" stroke="#c6c6c6" stroke-width="1.2" />
<line x1="2294.58" y1="319.50" x2="2294.58" y2="408.30" stroke="#c6c6c6" stroke-width="1.2" />
<line x1="2394.53" y1="213.30" x2="2394.53" y2="316.20" stroke="#c6c6c6" stroke-width="1.2" />
<line x1="2394.53" y1="319.50" x2="2394.53" y2="408.30" stroke="#c6c6c6" stroke-width="1.2" />
<line x1="2494.49" y1="213.30" x2="2494.49" y2="316.20" stroke="#c6c6c6" stroke-width="1.2" />
<line x1="2494.49" y1="319.50" x2="2494.49" y2="408.30" stroke="#c6c6c6" stroke-width="1.2" />
<line x1="2594.44" y1="213.30" x2="2594.44" y2="316.20" stroke="#c6c6c6" stroke-width="1.2" />
<line x1="2594.44" y1="319.50" x2="2594.44" y2="408.30" stroke="#c6c6c6" stroke-width="1.2" />
<line x1="2694.40" y1="213.30" x2="2694.40" y2="316.20" stroke="#c6c6c6" stroke-width="1.2" />
<line x1="2694.40" y1="319.50" x2="2694.40" y2="408.30" stroke="#c6c6c6" stroke-width="1.2" />
<line x1="2794.35" y1="213.30" x2="2794.35" y2="316.20" stroke="#c6c6c6" stroke-width="1.2" />
<line x1="2794.35" y1="319.50" x2="2794.35" y2="408.30" stroke="#c6c6c6" stroke-width="1.2" />
<line x1="2894.31" y1="213.30" x2="2894.31" y2="316.20" stroke="#c6c6c6" stroke-width="1.2" />
<line x1="2894.31" y1="319.50" x2="2894.31" y2="408.30" stroke="#c6c6c6" stroke-width="1.2" />
<line x1="2994.26" y1="213.30" x2="2994.26" y2="316.20" stroke="#c6c6c6" stroke-width="1.2" />
<line x1="2994.26" y1="319.50" x2="2994.26" y2="408.30" stroke="#c6c6c6" stroke-width="1.2" />
<line x1="3094.22" y1="213.30" x2="3094.22" y2="316.20" stroke="#c6c6c6" stroke-width="1.2" />
<line x1="3094.22" y1="319.50" x2="3094.22" y2="408.30" stroke="#c6c6c6" stroke-width="1.2" />
<line x1="3194.18" y1="213.30" x2="3194.18" y2="316.20" stroke="#c6c6c6" stroke-width="1.2" />
<line x1="3194.18" y1="319.50" x2="3194.18" y2="408.30" stroke="#c6c6c6" stroke-width="1.2" />
<line x1="3294.13" y1="213.30" x2="3294.13" y2="316.20" stroke="#c6c6c6" stroke-width="1.2" />
<line x1="3294.13" y1="319.50" x2="3294.13" y2="408.30" stroke="#c6c6c6" stroke-width="1.2" />
<line x1="3394.09" y1="213.30" x2="3394.09" y2="316.20" stroke="#c6c6c6" stroke-width="1.2" />
<line x1="3394.09" y1="319.50" x2="3394.09" y2="408.30" stroke="#c6c6c6" stroke-width="1.2" />
<line x1="3494.04" y1="213.30" x2="3494.04" y2="316.20" stroke="#c6c6c6" stroke-width="1.2" />
<line x1="3494.04" y1="319.50" x2="3494.04" y2="408.30" stroke="#c6c6c6" stroke-width="1.2" />
<line x1="3593.99" y1="213.30" x2="3593.99" y2="316.20" stroke="#c6c6c6" stroke-width="1.2" />
<line x1="3593.99" y1="319.50" x2="3593.99" y2="408.30" stroke="#c6c6c6" stroke-width="1.2" />
<rect x="1657.40" y="213.30" width="2055.10" height="240.00" fill="none" stroke="#bcbcbc" stroke-width="1.25"/>
<line x1="1676.40" y1="213.30" x2="1676.40" y2="453.30" stroke="#b8b8b8" stroke-width="1.2" />
<line x1="1694.40" y1="213.30" x2="1694.40" y2="453.30" stroke="#b8b8b8" stroke-width="1.2" />
<line x1="3693.60" y1="213.30" x2="3693.60" y2="453.30" stroke="#b8b8b8" stroke-width="1.2" />
<rect x="2695.00" y="213.90" width="98.75" height="193.80" fill="none" stroke="#555" stroke-width="0.9" stroke-dasharray="1 1"/>
<path d="M1694.40 262.30L1794.95 256.40L1861.92 253.20L1866.12 273.80L1894.21 271.80L1965.78 266.70L1970.08 282.70L1994.67 280.50L2069.33 274.60L2073.73 281.10L2094.12 279.30L2133.50 276.40L2137.70 288.70L2194.38 283.30L2201.87 283.30L2294.13 275.60L2345.31 272.20L2349.41 285.50L2353.60 290.00L2357.20 289.50L2361.70 293.40L2369.40 292.60L2373.39 295.60L2393.59 293.60L2405.68 298.80L2441.16 295.20L2445.16 300.40L2465.15 298.40L2469.45 300.60L2494.44 298.00L2544.92 293.20L2549.52 296.40L2557.41 295.40L2562.01 298.40L2594.30 294.60L2640.87 290.20L2645.37 293.80L2668.96 291.40L2673.46 298.40L2677.26 300.40L2693.75 298.80L2700.85 304.30L2704.85 305.50L2709.74 305.20L2713.74 306.10L2744.43 302.50L2749.03 304.10L2757.12 303.10L2761.22 304.30L2765.22 303.90L2769.62 306.10L2781.31 308.30L2788.41 307.30L2793.51 308.10L2800.50 308.70L2848.98 303.30L2852.98 304.50L2893.36 300.00L2900.96 305.50L2908.45 304.50L2917.15 306.50L2994.22 298.00L3060.39 291.60L3064.88 295.20L3094.07 292.20L3193.93 283.30L3199.42 283.30L3264.39 277.80L3268.59 283.30L3276.29 282.70L3280.49 302.50L3293.88 300.90L3379.64 292.60L3384.04 295.80L3412.33 293.40L3416.92 299.40L3493.99 291.80L3591.85 283.30L3692.50 282.50" fill="none" stroke="#3f97e0" stroke-width="1.35" stroke-linejoin="round"/>
<circle cx="1844.78" cy="327.68" r="6.80" fill="#e8411d"/>
<path d="M1841.86 324.76L1847.71 330.60M1847.71 324.76L1841.86 330.60" fill="none" stroke="#fff" stroke-width="1.224" />
<circle cx="1944.74" cy="327.68" r="6.80" fill="#e8411d"/>
<path d="M1941.81 324.76L1947.66 330.60M1947.66 324.76L1941.81 330.60" fill="none" stroke="#fff" stroke-width="1.224" />
<circle cx="2144.65" cy="327.68" r="6.80" fill="#e8411d"/>
<path d="M2141.72 324.76L2147.57 330.60M2147.57 324.76L2141.72 330.60" fill="none" stroke="#fff" stroke-width="1.224" />
<circle cx="2344.56" cy="327.68" r="6.80" fill="#e8411d"/>
<path d="M2341.63 324.76L2347.48 330.60M2347.48 324.76L2341.63 330.60" fill="none" stroke="#fff" stroke-width="1.224" />
<circle cx="2444.51" cy="327.68" r="6.80" fill="#e8411d"/>
<path d="M2441.59 324.76L2447.44 330.60M2447.44 324.76L2441.59 330.60" fill="none" stroke="#fff" stroke-width="1.224" />
<circle cx="2544.47" cy="327.68" r="6.80" fill="#e8411d"/>
<path d="M2541.54 324.76L2547.39 330.60M2547.39 324.76L2541.54 330.60" fill="none" stroke="#fff" stroke-width="1.224" />
<circle cx="2744.38" cy="327.68" r="6.80" fill="#e8411d"/>
<path d="M2741.45 324.76L2747.30 330.60M2747.30 324.76L2741.45 330.60" fill="none" stroke="#fff" stroke-width="1.224" />
<circle cx="2944.29" cy="327.68" r="6.80" fill="#e8411d"/>
<path d="M2941.36 324.76L2947.21 330.60M2947.21 324.76L2941.36 330.60" fill="none" stroke="#fff" stroke-width="1.224" />
<circle cx="3044.24" cy="327.68" r="6.80" fill="#e8411d"/>
<path d="M3041.32 324.76L3047.17 330.60M3047.17 324.76L3041.32 330.60" fill="none" stroke="#fff" stroke-width="1.224" />
<circle cx="3344.11" cy="327.68" r="6.80" fill="#e8411d"/>
<path d="M3341.18 324.76L3347.03 330.60M3347.03 324.76L3341.18 330.60" fill="none" stroke="#fff" stroke-width="1.224" />
<circle cx="3444.06" cy="327.68" r="6.80" fill="#e8411d"/>
<path d="M3441.14 324.76L3446.99 330.60M3446.99 324.76L3441.14 330.60" fill="none" stroke="#fff" stroke-width="1.224" />
<circle cx="1844.78" cy="363.20" r="6.80" fill="#e8411d"/>
<path d="M1841.86 360.28L1847.71 366.12M1847.71 360.28L1841.86 366.12" fill="none" stroke="#fff" stroke-width="1.224" />
<circle cx="2044.69" cy="363.20" r="6.80" fill="#e8411d"/>
<path d="M2041.77 360.28L2047.62 366.12M2047.62 360.28L2041.77 366.12" fill="none" stroke="#fff" stroke-width="1.224" />
<circle cx="2144.65" cy="363.20" r="6.80" fill="#e8411d"/>
<path d="M2141.72 360.28L2147.57 366.12M2147.57 360.28L2141.72 366.12" fill="none" stroke="#fff" stroke-width="1.224" />
<circle cx="2344.56" cy="363.20" r="6.80" fill="#e8411d"/>
<path d="M2341.63 360.28L2347.48 366.12M2347.48 360.28L2341.63 366.12" fill="none" stroke="#fff" stroke-width="1.224" />
<circle cx="2444.51" cy="363.20" r="6.80" fill="#e8411d"/>
<path d="M2441.59 360.28L2447.44 366.12M2447.44 360.28L2441.59 366.12" fill="none" stroke="#fff" stroke-width="1.224" />
<circle cx="2544.47" cy="363.20" r="6.80" fill="#e8411d"/>
<path d="M2541.54 360.28L2547.39 366.12M2547.39 360.28L2541.54 366.12" fill="none" stroke="#fff" stroke-width="1.224" />
<circle cx="2644.42" cy="363.20" r="6.80" fill="#e8411d"/>
<path d="M2641.50 360.28L2647.35 366.12M2647.35 360.28L2641.50 366.12" fill="none" stroke="#fff" stroke-width="1.224" />
<circle cx="2744.38" cy="363.20" r="6.80" fill="#e8411d"/>
<path d="M2741.45 360.28L2747.30 366.12M2747.30 360.28L2741.45 366.12" fill="none" stroke="#fff" stroke-width="1.224" />
<circle cx="2844.33" cy="363.20" r="6.80" fill="#e8411d"/>
<path d="M2841.41 360.28L2847.26 366.12M2847.26 360.28L2841.41 366.12" fill="none" stroke="#fff" stroke-width="1.224" />
<circle cx="2944.29" cy="363.20" r="6.80" fill="#e8411d"/>
<path d="M2941.36 360.28L2947.21 366.12M2947.21 360.28L2941.36 366.12" fill="none" stroke="#fff" stroke-width="1.224" />
<circle cx="3044.24" cy="363.20" r="6.80" fill="#e8411d"/>
<path d="M3041.32 360.28L3047.17 366.12M3047.17 360.28L3041.32 366.12" fill="none" stroke="#fff" stroke-width="1.224" />
<circle cx="3244.15" cy="363.20" r="6.80" fill="#e8411d"/>
<path d="M3241.23 360.28L3247.08 366.12M3247.08 360.28L3241.23 366.12" fill="none" stroke="#fff" stroke-width="1.224" />
<path d="M2544.47 374.17L2551.95 388.79L2536.99 388.79Z" fill="#fbcf0a" stroke="none" stroke-width="1" />
<path d="M2544.47 379.27L2544.47 384.37" fill="none" stroke="#1a1a1a" stroke-width="1.496" />
<circle cx="2544.47" cy="386.61" r="0.88" fill="#1a1a1a"/>
<circle cx="1844.78" cy="399.42" r="6.80" fill="#0f74d6"/>
<path d="M1844.78 398.20L1844.78 403.16" fill="none" stroke="#f4f9ff" stroke-width="1.1560000000000001" />
<circle cx="1844.78" cy="396.02" r="0.58" fill="#e8f2fc"/>
<circle cx="2044.69" cy="399.42" r="6.80" fill="#0f74d6"/>
<path d="M2044.69 398.20L2044.69 403.16" fill="none" stroke="#f4f9ff" stroke-width="1.1560000000000001" />
<circle cx="2044.69" cy="396.02" r="0.58" fill="#e8f2fc"/>
<circle cx="2144.65" cy="399.42" r="6.80" fill="#0f74d6"/>
<path d="M2144.65 398.20L2144.65 403.16" fill="none" stroke="#f4f9ff" stroke-width="1.1560000000000001" />
<circle cx="2144.65" cy="396.02" r="0.58" fill="#e8f2fc"/>
<circle cx="2344.56" cy="399.42" r="6.80" fill="#0f74d6"/>
<path d="M2344.56 398.20L2344.56 403.16" fill="none" stroke="#f4f9ff" stroke-width="1.1560000000000001" />
<circle cx="2344.56" cy="396.02" r="0.58" fill="#e8f2fc"/>
<circle cx="2444.51" cy="399.42" r="6.80" fill="#0f74d6"/>
<path d="M2444.51 398.20L2444.51 403.16" fill="none" stroke="#f4f9ff" stroke-width="1.1560000000000001" />
<circle cx="2444.51" cy="396.02" r="0.58" fill="#e8f2fc"/>
<circle cx="2544.47" cy="399.42" r="6.80" fill="#0f74d6"/>
<path d="M2544.47 398.20L2544.47 403.16" fill="none" stroke="#f4f9ff" stroke-width="1.1560000000000001" />
<circle cx="2544.47" cy="396.02" r="0.58" fill="#e8f2fc"/>
<circle cx="2644.42" cy="399.42" r="6.80" fill="#0f74d6"/>
<path d="M2644.42 398.20L2644.42 403.16" fill="none" stroke="#f4f9ff" stroke-width="1.1560000000000001" />
<circle cx="2644.42" cy="396.02" r="0.58" fill="#e8f2fc"/>
<circle cx="2744.38" cy="399.42" r="6.80" fill="#0f74d6"/>
<path d="M2744.38 398.20L2744.38 403.16" fill="none" stroke="#f4f9ff" stroke-width="1.1560000000000001" />
<circle cx="2744.38" cy="396.02" r="0.58" fill="#e8f2fc"/>
<circle cx="2844.33" cy="399.42" r="6.80" fill="#0f74d6"/>
<path d="M2844.33 398.20L2844.33 403.16" fill="none" stroke="#f4f9ff" stroke-width="1.1560000000000001" />
<circle cx="2844.33" cy="396.02" r="0.58" fill="#e8f2fc"/>
<circle cx="2944.29" cy="399.42" r="6.80" fill="#0f74d6"/>
<path d="M2944.29 398.20L2944.29 403.16" fill="none" stroke="#f4f9ff" stroke-width="1.1560000000000001" />
<circle cx="2944.29" cy="396.02" r="0.58" fill="#e8f2fc"/>
<circle cx="3044.24" cy="399.42" r="6.80" fill="#0f74d6"/>
<path d="M3044.24 398.20L3044.24 403.16" fill="none" stroke="#f4f9ff" stroke-width="1.1560000000000001" />
<circle cx="3044.24" cy="396.02" r="0.58" fill="#e8f2fc"/>
<circle cx="3144.20" cy="399.42" r="6.80" fill="#0f74d6"/>
<path d="M3144.20 398.20L3144.20 403.16" fill="none" stroke="#f4f9ff" stroke-width="1.1560000000000001" />
<circle cx="3144.20" cy="396.02" r="0.58" fill="#e8f2fc"/>
<circle cx="3244.15" cy="399.42" r="6.80" fill="#0f74d6"/>
<path d="M3244.15 398.20L3244.15 403.16" fill="none" stroke="#f4f9ff" stroke-width="1.1560000000000001" />
<circle cx="3244.15" cy="396.02" r="0.58" fill="#e8f2fc"/>
<circle cx="3344.11" cy="399.42" r="6.80" fill="#0f74d6"/>
<path d="M3344.11 398.20L3344.11 403.16" fill="none" stroke="#f4f9ff" stroke-width="1.1560000000000001" />
<circle cx="3344.11" cy="396.02" r="0.58" fill="#e8f2fc"/>
<circle cx="3444.06" cy="399.42" r="6.80" fill="#0f74d6"/>
<path d="M3444.06 398.20L3444.06 403.16" fill="none" stroke="#f4f9ff" stroke-width="1.1560000000000001" />
<circle cx="3444.06" cy="396.02" r="0.58" fill="#e8f2fc"/>
<circle cx="3544.02" cy="399.42" r="6.80" fill="#0f74d6"/>
<path d="M3544.02 398.20L3544.02 403.16" fill="none" stroke="#f4f9ff" stroke-width="1.1560000000000001" />
<circle cx="3544.02" cy="396.02" r="0.58" fill="#e8f2fc"/>
<circle cx="3643.97" cy="399.42" r="6.80" fill="#0f74d6"/>
<path d="M3643.97 398.20L3643.97 403.16" fill="none" stroke="#f4f9ff" stroke-width="1.1560000000000001" />
<circle cx="3643.97" cy="396.02" r="0.58" fill="#e8f2fc"/>
<line x1="1744.83" y1="405.42" x2="1744.83" y2="409.60" stroke="#b4b4b4" stroke-width="1.1" />
<line x1="1844.78" y1="406.86" x2="1844.78" y2="411.90" stroke="#b4b4b4" stroke-width="1.1" />
<line x1="1944.74" y1="405.42" x2="1944.74" y2="409.60" stroke="#b4b4b4" stroke-width="1.1" />
<line x1="2044.69" y1="406.86" x2="2044.69" y2="411.90" stroke="#b4b4b4" stroke-width="1.1" />
<line x1="2144.65" y1="405.42" x2="2144.65" y2="409.60" stroke="#b4b4b4" stroke-width="1.1" />
<line x1="2244.60" y1="406.86" x2="2244.60" y2="411.90" stroke="#b4b4b4" stroke-width="1.1" />
<line x1="2344.56" y1="405.42" x2="2344.56" y2="409.60" stroke="#b4b4b4" stroke-width="1.1" />
<line x1="2444.51" y1="406.86" x2="2444.51" y2="411.90" stroke="#b4b4b4" stroke-width="1.1" />
<line x1="2544.47" y1="405.42" x2="2544.47" y2="409.60" stroke="#b4b4b4" stroke-width="1.1" />
<line x1="2644.42" y1="406.86" x2="2644.42" y2="411.90" stroke="#b4b4b4" stroke-width="1.1" />
<line x1="2744.38" y1="405.42" x2="2744.38" y2="409.60" stroke="#b4b4b4" stroke-width="1.1" />
<line x1="2844.33" y1="406.86" x2="2844.33" y2="411.90" stroke="#b4b4b4" stroke-width="1.1" />
<line x1="2944.29" y1="405.42" x2="2944.29" y2="409.60" stroke="#b4b4b4" stroke-width="1.1" />
<line x1="3044.24" y1="406.86" x2="3044.24" y2="411.90" stroke="#b4b4b4" stroke-width="1.1" />
<line x1="3144.20" y1="405.42" x2="3144.20" y2="409.60" stroke="#b4b4b4" stroke-width="1.1" />
<line x1="3244.15" y1="406.86" x2="3244.15" y2="411.90" stroke="#b4b4b4" stroke-width="1.1" />
<line x1="3344.11" y1="405.42" x2="3344.11" y2="409.60" stroke="#b4b4b4" stroke-width="1.1" />
<line x1="3444.06" y1="406.86" x2="3444.06" y2="411.90" stroke="#b4b4b4" stroke-width="1.1" />
<line x1="3544.02" y1="405.42" x2="3544.02" y2="409.60" stroke="#b4b4b4" stroke-width="1.1" />
<line x1="3643.97" y1="406.86" x2="3643.97" y2="411.90" stroke="#b4b4b4" stroke-width="1.1" />
<path d="M1668.10 329.00L1664.10 333.00L1668.10 337.00Z" fill="#111" stroke="none" stroke-width="1" />
<path d="M3701.10 329.00L3705.10 333.00L3701.10 337.00Z" fill="#555" stroke="none" stroke-width="1" />
<rect x="1657.40" y="482.60" width="2171.20" height="672.20" fill="#fff" stroke="#acacac" stroke-width="1.2"/>
<line x1="1854.40" y1="484.10" x2="1854.40" y2="505.00" stroke="#e5e5e5" stroke-width="1.2" />
<line x1="2051.40" y1="484.10" x2="2051.40" y2="505.00" stroke="#e5e5e5" stroke-width="1.2" />
<line x1="2171.60" y1="484.10" x2="2171.60" y2="505.00" stroke="#e5e5e5" stroke-width="1.2" />
<line x1="2270.60" y1="484.10" x2="2270.60" y2="505.00" stroke="#e5e5e5" stroke-width="1.2" />
<path d="M2108.70 487.60L2112.10 484.20L2115.50 487.60" fill="none" stroke="#9a9a9a" stroke-width="0.9" />
<circle cx="1674.40" cy="515.80" r="8.20" fill="#e8411d"/>
<path d="M1670.87 512.27L1677.93 519.33M1677.93 512.27L1670.87 519.33" fill="none" stroke="#fff" stroke-width="1.4759999999999998" />
<line x1="1822.70" y1="515.50" x2="3785.00" y2="515.50" stroke="#c3cdec" stroke-width="1.2" />
<path d="M3793.00 517.30L3797.60 512.70L3802.20 517.30" fill="none" stroke="#0a2f9c" stroke-width="2.0" />
<rect x="1678.00" y="530.65" width="16.60" height="14.11" rx="1.49" fill="#f7f9fa" stroke="#b3b9c0" stroke-width="0.91"/>
<rect x="1680.32" y="533.75" width="6.64" height="7.76" fill="#4f9be0"/>
<rect x="1680.32" y="533.75" width="6.64" height="3.53" fill="#8cc0ee"/>
<rect x="1690.12" y="534.17" width="1.83" height="4.66" fill="#5aa3e6"/>
<rect x="1687.96" y="534.17" width="1.16" height="6.35" fill="#d5dde6"/>
<rect x="1679.99" y="542.50" width="12.62" height="0.99" fill="#c9d0d8"/>
<rect x="1678.00" y="552.10" width="16.60" height="14.11" rx="1.49" fill="#f7f9fa" stroke="#b3b9c0" stroke-width="0.91"/>
<rect x="1680.32" y="555.20" width="6.64" height="7.76" fill="#4f9be0"/>
<rect x="1680.32" y="555.20" width="6.64" height="3.53" fill="#8cc0ee"/>
<rect x="1690.12" y="555.62" width="1.83" height="4.66" fill="#5aa3e6"/>
<rect x="1687.96" y="555.62" width="1.16" height="6.35" fill="#d5dde6"/>
<rect x="1679.99" y="563.95" width="12.62" height="0.99" fill="#c9d0d8"/>
<rect x="1678.00" y="573.55" width="16.60" height="14.11" rx="1.49" fill="#f7f9fa" stroke="#b3b9c0" stroke-width="0.91"/>
<rect x="1680.32" y="576.65" width="6.64" height="7.76" fill="#4f9be0"/>
<rect x="1680.32" y="576.65" width="6.64" height="3.53" fill="#8cc0ee"/>
<rect x="1690.12" y="577.07" width="1.83" height="4.66" fill="#5aa3e6"/>
<rect x="1687.96" y="577.07" width="1.16" height="6.35" fill="#d5dde6"/>
<rect x="1679.99" y="585.40" width="12.62" height="0.99" fill="#c9d0d8"/>
<rect x="1678.00" y="595.00" width="16.60" height="14.11" rx="1.49" fill="#f7f9fa" stroke="#b3b9c0" stroke-width="0.91"/>
<rect x="1680.32" y="598.10" width="6.64" height="7.76" fill="#4f9be0"/>
<rect x="1680.32" y="598.10" width="6.64" height="3.53" fill="#8cc0ee"/>
<rect x="1690.12" y="598.52" width="1.83" height="4.66" fill="#5aa3e6"/>
<rect x="1687.96" y="598.52" width="1.16" height="6.35" fill="#d5dde6"/>
<rect x="1679.99" y="606.85" width="12.62" height="0.99" fill="#c9d0d8"/>
<rect x="1678.00" y="615.20" width="16.60" height="16.60" fill="#c20a22"/>
<path d="M1681.32 618.52Q1686.30 615.53 1692.11 618.52Q1692.28 627.15 1686.63 630.64Q1681.32 627.15 1681.32 618.52Z" fill="#f3f0ee" stroke="none" stroke-width="1" />
<path d="M1689.29 621.18L1683.98 621.18L1683.98 626.49L1688.96 626.49L1688.96 623.83L1686.63 623.83" fill="none" stroke="#c20a22" stroke-width="1.6600000000000001" />
<path d="M1679.33 640.90Q1686.80 639.04 1694.27 639.97L1694.27 649.23Q1686.80 647.84 1679.33 649.23Z" fill="#20262c" stroke="none" stroke-width="1" />
<rect x="1681.12" y="641.82" width="2.39" height="5.56" fill="#e9eef2"/>
<rect x="1685.60" y="641.82" width="1.94" height="5.56" fill="#dfe6ec"/>
<rect x="1688.89" y="641.36" width="2.39" height="6.02" fill="#5f8aa6"/>
<rect x="1678.00" y="659.35" width="16.60" height="14.11" rx="1.49" fill="#f7f9fa" stroke="#b3b9c0" stroke-width="0.91"/>
<rect x="1680.32" y="662.45" width="6.64" height="7.76" fill="#4f9be0"/>
<rect x="1680.32" y="662.45" width="6.64" height="3.53" fill="#8cc0ee"/>
<rect x="1690.12" y="662.87" width="1.83" height="4.66" fill="#5aa3e6"/>
<rect x="1687.96" y="662.87" width="1.16" height="6.35" fill="#d5dde6"/>
<rect x="1679.99" y="671.20" width="12.62" height="0.99" fill="#c9d0d8"/>
<path d="M1686.63 679.55L1693.82 683.70L1693.82 692.00L1686.63 696.15L1679.44 692.00L1679.44 683.70Z" fill="#0b0b0b" stroke="none" stroke-width="1" />
<path d="M1681.65 685.36L1686.63 682.70L1691.20 685.36L1686.80 688.02L1686.80 693.33L1681.65 690.51Z" fill="#f04a1c" stroke="none" stroke-width="1" />
<path d="M1686.63 701.00L1693.82 705.15L1693.82 713.45L1686.63 717.60L1679.44 713.45L1679.44 705.15Z" fill="#0b0b0b" stroke="none" stroke-width="1" />
<path d="M1681.65 706.81L1686.63 704.15L1691.20 706.81L1686.80 709.47L1686.80 714.78L1681.65 711.96Z" fill="#f04a1c" stroke="none" stroke-width="1" />
<rect x="1678.00" y="723.70" width="16.60" height="14.11" rx="1.49" fill="#f7f9fa" stroke="#b3b9c0" stroke-width="0.91"/>
<rect x="1680.32" y="726.80" width="6.64" height="7.76" fill="#4f9be0"/>
<rect x="1680.32" y="726.80" width="6.64" height="3.53" fill="#8cc0ee"/>
<rect x="1690.12" y="727.22" width="1.83" height="4.66" fill="#5aa3e6"/>
<rect x="1687.96" y="727.22" width="1.16" height="6.35" fill="#d5dde6"/>
<rect x="1679.99" y="735.55" width="12.62" height="0.99" fill="#c9d0d8"/>
<rect x="1678.00" y="745.15" width="16.60" height="14.11" rx="1.49" fill="#f7f9fa" stroke="#b3b9c0" stroke-width="0.91"/>
<rect x="1680.32" y="748.25" width="6.64" height="7.76" fill="#4f9be0"/>
<rect x="1680.32" y="748.25" width="6.64" height="3.53" fill="#8cc0ee"/>
<rect x="1690.12" y="748.67" width="1.83" height="4.66" fill="#5aa3e6"/>
<rect x="1687.96" y="748.67" width="1.16" height="6.35" fill="#d5dde6"/>
<rect x="1679.99" y="757.00" width="12.62" height="0.99" fill="#c9d0d8"/>
<rect x="1678.00" y="766.60" width="16.60" height="14.11" rx="1.49" fill="#f7f9fa" stroke="#b3b9c0" stroke-width="0.91"/>
<rect x="1680.32" y="769.70" width="6.64" height="7.76" fill="#4f9be0"/>
<rect x="1680.32" y="769.70" width="6.64" height="3.53" fill="#8cc0ee"/>
<rect x="1690.12" y="770.12" width="1.83" height="4.66" fill="#5aa3e6"/>
<rect x="1687.96" y="770.12" width="1.16" height="6.35" fill="#d5dde6"/>
<rect x="1679.99" y="778.45" width="12.62" height="0.99" fill="#c9d0d8"/>
<rect x="1678.00" y="788.05" width="16.60" height="14.11" rx="1.49" fill="#f7f9fa" stroke="#b3b9c0" stroke-width="0.91"/>
<rect x="1680.32" y="791.15" width="6.64" height="7.76" fill="#4f9be0"/>
<rect x="1680.32" y="791.15" width="6.64" height="3.53" fill="#8cc0ee"/>
<rect x="1690.12" y="791.57" width="1.83" height="4.66" fill="#5aa3e6"/>
<rect x="1687.96" y="791.57" width="1.16" height="6.35" fill="#d5dde6"/>
<rect x="1679.99" y="799.90" width="12.62" height="0.99" fill="#c9d0d8"/>
<rect x="1678.00" y="809.50" width="16.60" height="14.11" rx="1.49" fill="#f7f9fa" stroke="#b3b9c0" stroke-width="0.91"/>
<rect x="1680.32" y="812.60" width="6.64" height="7.76" fill="#4f9be0"/>
<rect x="1680.32" y="812.60" width="6.64" height="3.53" fill="#8cc0ee"/>
<rect x="1690.12" y="813.02" width="1.83" height="4.66" fill="#5aa3e6"/>
<rect x="1687.96" y="813.02" width="1.16" height="6.35" fill="#d5dde6"/>
<rect x="1679.99" y="821.35" width="12.62" height="0.99" fill="#c9d0d8"/>
<rect x="1678.00" y="830.95" width="16.60" height="14.11" rx="1.49" fill="#f7f9fa" stroke="#b3b9c0" stroke-width="0.91"/>
<rect x="1680.32" y="834.05" width="6.64" height="7.76" fill="#4f9be0"/>
<rect x="1680.32" y="834.05" width="6.64" height="3.53" fill="#8cc0ee"/>
<rect x="1690.12" y="834.47" width="1.83" height="4.66" fill="#5aa3e6"/>
<rect x="1687.96" y="834.47" width="1.16" height="6.35" fill="#d5dde6"/>
<rect x="1679.99" y="842.80" width="12.62" height="0.99" fill="#c9d0d8"/>
<circle cx="1674.40" cy="862.50" r="8.20" fill="#0f74d6"/>
<path d="M1674.40 861.02L1674.40 867.01" fill="none" stroke="#f4f9ff" stroke-width="1.394" />
<circle cx="1674.40" cy="858.40" r="0.70" fill="#e8f2fc"/>
<line x1="1843.80" y1="862.20" x2="3785.00" y2="862.20" stroke="#c3cdec" stroke-width="1.2" />
<path d="M3793.00 864.00L3797.60 859.40L3802.20 864.00" fill="none" stroke="#0a2f9c" stroke-width="2.0" />
<rect x="1678.00" y="877.25" width="16.60" height="14.11" rx="1.49" fill="#f7f9fa" stroke="#b3b9c0" stroke-width="0.91"/>
<rect x="1680.32" y="880.35" width="6.64" height="7.76" fill="#4f9be0"/>
<rect x="1680.32" y="880.35" width="6.64" height="3.53" fill="#8cc0ee"/>
<rect x="1690.12" y="880.77" width="1.83" height="4.66" fill="#5aa3e6"/>
<rect x="1687.96" y="880.77" width="1.16" height="6.35" fill="#d5dde6"/>
<rect x="1679.99" y="889.10" width="12.62" height="0.99" fill="#c9d0d8"/>
<rect x="1678.00" y="898.70" width="16.60" height="14.11" rx="1.49" fill="#f7f9fa" stroke="#b3b9c0" stroke-width="0.91"/>
<rect x="1680.32" y="901.80" width="6.64" height="7.76" fill="#4f9be0"/>
<rect x="1680.32" y="901.80" width="6.64" height="3.53" fill="#8cc0ee"/>
<rect x="1690.12" y="902.22" width="1.83" height="4.66" fill="#5aa3e6"/>
<rect x="1687.96" y="902.22" width="1.16" height="6.35" fill="#d5dde6"/>
<rect x="1679.99" y="910.55" width="12.62" height="0.99" fill="#c9d0d8"/>
<rect x="1678.00" y="920.14" width="16.60" height="14.11" rx="1.49" fill="#f7f9fa" stroke="#b3b9c0" stroke-width="0.91"/>
<rect x="1680.32" y="923.25" width="6.64" height="7.76" fill="#4f9be0"/>
<rect x="1680.32" y="923.25" width="6.64" height="3.53" fill="#8cc0ee"/>
<rect x="1690.12" y="923.67" width="1.83" height="4.66" fill="#5aa3e6"/>
<rect x="1687.96" y="923.67" width="1.16" height="6.35" fill="#d5dde6"/>
<rect x="1679.99" y="932.00" width="12.62" height="0.99" fill="#c9d0d8"/>
<rect x="1678.00" y="941.60" width="16.60" height="14.11" rx="1.49" fill="#f7f9fa" stroke="#b3b9c0" stroke-width="0.91"/>
<rect x="1680.32" y="944.70" width="6.64" height="7.76" fill="#4f9be0"/>
<rect x="1680.32" y="944.70" width="6.64" height="3.53" fill="#8cc0ee"/>
<rect x="1690.12" y="945.12" width="1.83" height="4.66" fill="#5aa3e6"/>
<rect x="1687.96" y="945.12" width="1.16" height="6.35" fill="#d5dde6"/>
<rect x="1679.99" y="953.45" width="12.62" height="0.99" fill="#c9d0d8"/>
<rect x="1678.00" y="963.04" width="16.60" height="14.11" rx="1.49" fill="#f7f9fa" stroke="#b3b9c0" stroke-width="0.91"/>
<rect x="1680.32" y="966.15" width="6.64" height="7.76" fill="#4f9be0"/>
<rect x="1680.32" y="966.15" width="6.64" height="3.53" fill="#8cc0ee"/>
<rect x="1690.12" y="966.57" width="1.83" height="4.66" fill="#5aa3e6"/>
<rect x="1687.96" y="966.57" width="1.16" height="6.35" fill="#d5dde6"/>
<rect x="1679.99" y="974.90" width="12.62" height="0.99" fill="#c9d0d8"/>
<rect x="1678.00" y="984.50" width="16.60" height="14.11" rx="1.49" fill="#f7f9fa" stroke="#b3b9c0" stroke-width="0.91"/>
<rect x="1680.32" y="987.60" width="6.64" height="7.76" fill="#4f9be0"/>
<rect x="1680.32" y="987.60" width="6.64" height="3.53" fill="#8cc0ee"/>
<rect x="1690.12" y="988.02" width="1.83" height="4.66" fill="#5aa3e6"/>
<rect x="1687.96" y="988.02" width="1.16" height="6.35" fill="#d5dde6"/>
<rect x="1679.99" y="996.35" width="12.62" height="0.99" fill="#c9d0d8"/>
<rect x="1678.00" y="1005.95" width="16.60" height="14.11" rx="1.49" fill="#f7f9fa" stroke="#b3b9c0" stroke-width="0.91"/>
<rect x="1680.32" y="1009.05" width="6.64" height="7.76" fill="#4f9be0"/>
<rect x="1680.32" y="1009.05" width="6.64" height="3.53" fill="#8cc0ee"/>
<rect x="1690.12" y="1009.47" width="1.83" height="4.66" fill="#5aa3e6"/>
<rect x="1687.96" y="1009.47" width="1.16" height="6.35" fill="#d5dde6"/>
<rect x="1679.99" y="1017.80" width="12.62" height="0.99" fill="#c9d0d8"/>
<rect x="1678.00" y="1027.39" width="16.60" height="14.11" rx="1.49" fill="#f7f9fa" stroke="#b3b9c0" stroke-width="0.91"/>
<rect x="1680.32" y="1030.50" width="6.64" height="7.76" fill="#4f9be0"/>
<rect x="1680.32" y="1030.50" width="6.64" height="3.53" fill="#8cc0ee"/>
<rect x="1690.12" y="1030.92" width="1.83" height="4.66" fill="#5aa3e6"/>
<rect x="1687.96" y="1030.92" width="1.16" height="6.35" fill="#d5dde6"/>
<rect x="1679.99" y="1039.25" width="12.62" height="0.99" fill="#c9d0d8"/>
<rect x="1678.00" y="1048.84" width="16.60" height="14.11" rx="1.49" fill="#f7f9fa" stroke="#b3b9c0" stroke-width="0.91"/>
<rect x="1680.32" y="1051.95" width="6.64" height="7.76" fill="#4f9be0"/>
<rect x="1680.32" y="1051.95" width="6.64" height="3.53" fill="#8cc0ee"/>
<rect x="1690.12" y="1052.37" width="1.83" height="4.66" fill="#5aa3e6"/>
<rect x="1687.96" y="1052.37" width="1.16" height="6.35" fill="#d5dde6"/>
<rect x="1679.99" y="1060.70" width="12.62" height="0.99" fill="#c9d0d8"/>
<rect x="1678.00" y="1070.29" width="16.60" height="14.11" rx="1.49" fill="#f7f9fa" stroke="#b3b9c0" stroke-width="0.91"/>
<rect x="1680.32" y="1073.40" width="6.64" height="7.76" fill="#4f9be0"/>
<rect x="1680.32" y="1073.40" width="6.64" height="3.53" fill="#8cc0ee"/>
<rect x="1690.12" y="1073.82" width="1.83" height="4.66" fill="#5aa3e6"/>
<rect x="1687.96" y="1073.82" width="1.16" height="6.35" fill="#d5dde6"/>
<rect x="1679.99" y="1082.15" width="12.62" height="0.99" fill="#c9d0d8"/>
<rect x="1678.00" y="1091.74" width="16.60" height="14.11" rx="1.49" fill="#f7f9fa" stroke="#b3b9c0" stroke-width="0.91"/>
<rect x="1680.32" y="1094.85" width="6.64" height="7.76" fill="#4f9be0"/>
<rect x="1680.32" y="1094.85" width="6.64" height="3.53" fill="#8cc0ee"/>
<rect x="1690.12" y="1095.27" width="1.83" height="4.66" fill="#5aa3e6"/>
<rect x="1687.96" y="1095.27" width="1.16" height="6.35" fill="#d5dde6"/>
<rect x="1679.99" y="1103.60" width="12.62" height="0.99" fill="#c9d0d8"/>
<rect x="1678.00" y="1113.19" width="16.60" height="14.11" rx="1.49" fill="#f7f9fa" stroke="#b3b9c0" stroke-width="0.91"/>
<rect x="1680.32" y="1116.30" width="6.64" height="7.76" fill="#4f9be0"/>
<rect x="1680.32" y="1116.30" width="6.64" height="3.53" fill="#8cc0ee"/>
<rect x="1690.12" y="1116.72" width="1.83" height="4.66" fill="#5aa3e6"/>
<rect x="1687.96" y="1116.72" width="1.16" height="6.35" fill="#d5dde6"/>
<rect x="1679.99" y="1125.05" width="12.62" height="0.99" fill="#c9d0d8"/>
<rect x="1678.00" y="1134.64" width="16.60" height="14.11" rx="1.49" fill="#f7f9fa" stroke="#b3b9c0" stroke-width="0.91"/>
<rect x="1680.32" y="1137.75" width="6.64" height="7.76" fill="#4f9be0"/>
<rect x="1680.32" y="1137.75" width="6.64" height="3.53" fill="#8cc0ee"/>
<rect x="1690.12" y="1138.17" width="1.83" height="4.66" fill="#5aa3e6"/>
<rect x="1687.96" y="1138.17" width="1.16" height="6.35" fill="#d5dde6"/>
<rect x="1679.99" y="1146.50" width="12.62" height="0.99" fill="#c9d0d8"/>
<rect x="1658.40" y="1167.70" width="8.10" height="10.87" fill="#fdfdfd" stroke="#9aa3ad" stroke-width="0.8"/>
<rect x="1663.12" y="1171.58" width="8.37" height="11.64" fill="#fdfdfd" stroke="#8d97a3" stroke-width="0.8"/>
<line x1="1664.75" y1="1174.69" x2="1670.01" y2="1174.69" stroke="#7fa6d8" stroke-width="0.9" />
<line x1="1664.75" y1="1177.01" x2="1670.01" y2="1177.01" stroke="#7fa6d8" stroke-width="0.9" />
<line x1="1664.75" y1="1179.34" x2="1670.01" y2="1179.34" stroke="#7fa6d8" stroke-width="0.9" />
<rect x="3755.20" y="1167.40" width="72.70" height="22.70" fill="#e1e1e1" stroke="#adadad" stroke-width="1"/>
<rect x="3811.10" y="483.20" width="16.60" height="671.00" fill="#f0f0f0" />
<rect x="3811.10" y="501.00" width="16.60" height="514.30" fill="#cdcdcd" />
<path d="M3814.6 494.6L3819 490.4L3823.4 494.6" fill="none" stroke="#606060" stroke-width="1.5" />
<path d="M3814.6 1142.8L3819 1147L3823.4 1142.8" fill="none" stroke="#606060" stroke-width="1.5" />
<rect x="2613.30" y="0.00" width="51.40" height="1.00" fill="#1272c8" />
<rect x="2664.70" y="0.00" width="206.50" height="1.00" fill="#262626" />
<path d="M1656.20 1212.33L1663.92 1211.33L1663.92 1218.22L1656.20 1218.22Z" fill="#fff" stroke="none" stroke-width="1" />
<path d="M1665.08 1211.16L1672.80 1209.84L1672.80 1218.22L1665.08 1218.22Z" fill="#fff" stroke="none" stroke-width="1" />
<path d="M1656.20 1219.38L1663.92 1219.38L1663.92 1226.27L1656.20 1225.27Z" fill="#fff" stroke="none" stroke-width="1" />
<path d="M1665.08 1219.38L1672.80 1219.38L1672.80 1227.76L1665.08 1226.44Z" fill="#fff" stroke="none" stroke-width="1" />
<rect x="1684.6" y="1202.90" width="276.3" height="31.00" fill="#323232" stroke="#505050" stroke-width="0.9"/>
<circle cx="1708.69" cy="1216.21" r="5.76" fill="none" stroke="#e6e6e6" stroke-width="1.45"/>
<line x1="1704.46" y1="1220.44" x2="1697.17" y2="1227.73" stroke="#e6e6e6" stroke-width="1.45" />
<defs><radialGradient id="ocg" gradientUnits="userSpaceOnUse" cx="800" cy="500" r="640"><stop offset="0" stop-color="#ff9a52"/><stop offset="0.55" stop-color="#f6764c"/><stop offset="0.8" stop-color="#cf7c9c"/><stop offset="0.9" stop-color="#8c7cc4"/><stop offset="1" stop-color="#5f86c4"/></radialGradient><radialGradient id="och" cx="0.45" cy="0.3" r="0.8"><stop offset="0" stop-color="#ffa552"/><stop offset="0.6" stop-color="#f8743e"/><stop offset="1" stop-color="#ee4a3c"/></radialGradient><linearGradient id="ocm" x1="0" y1="0" x2="1" y2="1"><stop offset="0" stop-color="#b274d6"/><stop offset="0.6" stop-color="#a79aa6"/><stop offset="1" stop-color="#8a8aa0"/></linearGradient></defs><g transform="translate(1896 1200) scale(0.042265)" fill="none" stroke="url(#ocg)" stroke-linecap="round"><path d="M470 690C430 560 450 420 460 325" stroke-width="26" opacity="0.8"/><path d="M690 525C600 525 545 485 530 430" stroke-width="26" opacity="0.85"/><path d="M625 445C605 400 590 372 552 362" stroke="#7686ac" stroke-width="20" opacity="0.8"/><path d="M920 480C1050 480 1100 380 1130 285C1140 262 1155 250 1172 245" stroke-width="30"/><path d="M900 445C960 400 1000 345 980 292C962 262 930 272 922 300" stroke-width="24"/><path d="M1325 425C1322 362 1292 312 1258 286" stroke="#6a8cc6" stroke-width="24"/><path d="M625 150Q800 190 885 305Q905 380 900 420L660 480Q590 330 625 150Z" fill="url(#ocm)" stroke="none"/><path d="M880 540C920 700 1000 800 1100 760C1180 720 1200 560 1250 480C1290 430 1320 420 1352 410" stroke-width="62"/><path d="M900 525C1000 600 1150 625 1235 560" stroke-width="62"/><path d="M800 545C760 700 560 825 430 700C380 640 340 575 268 572" stroke-width="66"/><path d="M780 545C720 640 630 665 585 600" stroke-width="36"/><path d="M850 560C840 650 800 740 700 770" stroke-width="44"/><path d="M850 640L775 745L935 745Z" fill="#4a5a82" stroke="none" opacity="0.75"/><ellipse cx="775" cy="405" rx="122" ry="140" transform="rotate(-18 775 405)" fill="url(#och)" stroke="none"/><circle cx="725" cy="432" r="21" fill="#3b2a8e" stroke="none"/><circle cx="832" cy="380" r="21" fill="#3b2a8e" stroke="none"/></g>
<rect x="2714.10" y="1202.50" width="38.00" height="32.50" fill="#454545" />
<rect x="2748.20" y="1202.50" width="3.90" height="32.50" fill="#3a3a3a" />
<rect x="2714.10" y="1232.30" width="38.00" height="2.70" fill="#76b9ed" />
<rect x="1969.00" y="1232.30" width="30.00" height="2.70" fill="#76b9ed" />
<rect x="2047.90" y="1232.30" width="30.00" height="2.70" fill="#76b9ed" />
<circle cx="1983.40" cy="1218.90" r="8.53" fill="#e5402f"/>
<path d="M1983.40 1218.90L1990.78 1214.64A8.53 8.53 0 0 1 1983.40 1227.43Z" fill="#f7c51e" stroke="none" stroke-width="1" />
<path d="M1983.40 1218.90L1983.40 1227.43A8.53 8.53 0 0 1 1976.02 1214.64Z" fill="#2fa650" stroke="none" stroke-width="1" />
<circle cx="1983.40" cy="1218.90" r="3.92" fill="#f4f4f4"/>
<circle cx="1983.40" cy="1218.90" r="3.07" fill="#3b82f0"/>
<circle cx="1987.83" cy="1223.85" r="3.58" fill="#536b76"/>
<circle cx="2024.92" cy="1213.16" r="2.61" fill="#7b83eb"/>
<circle cx="2029.79" cy="1215.07" r="1.74" fill="#5b62d6"/>
<rect x="2021.44" y="1216.29" width="7.31" height="10.09" rx="2.44" fill="#7b83eb"/>
<rect x="2027.18" y="1217.16" width="4.35" height="6.96" rx="1.74" fill="#5b62d6"/>
<rect x="2014.13" y="1214.03" width="9.74" height="9.74" rx="0.87" fill="#4b53bc"/>
<rect x="2053.56" y="1211.94" width="7.83" height="3.48" rx="0.70" fill="#f0b429"/>
<rect x="2053.56" y="1213.68" width="17.40" height="11.83" rx="0.52" fill="#fbd45c"/>
<rect x="2056.69" y="1219.77" width="11.14" height="6.61" fill="#3a9be8"/>
<rect x="2059.13" y="1222.03" width="6.26" height="4.35" fill="#f5c543"/>
<rect x="2094.38" y="1211.07" width="13.92" height="15.66" fill="#ecebe6"/>
<rect x="2096.12" y="1210.72" width="10.44" height="2.44" fill="#c9b018"/>
<line x1="2096.12" y1="1217.16" x2="2104.82" y2="1217.16" stroke="#c8c8c4" stroke-width="1" />
<line x1="2096.12" y1="1220.64" x2="2103.08" y2="1220.64" stroke="#c8c8c4" stroke-width="1" />
<path d="M2099.60 1222.90L2110.39 1216.29" fill="none" stroke="#d89a3c" stroke-width="2.262" />
<path d="M2109.35 1216.99L2110.91 1215.94" fill="none" stroke="#d5453a" stroke-width="2.262" />
<circle cx="2141.12" cy="1218.55" r="8.18" fill="#f2f6f2"/>
<path d="M2133.35 1227.08L2134.58 1221.35L2139.48 1225.85Z" fill="#f2f6f2" stroke="none" stroke-width="1" />
<circle cx="2141.12" cy="1218.55" r="6.71" fill="#35c25a"/>
<path d="M2138.50 1215.47Q2138.67 1221.35 2144.23 1221.35" fill="none" stroke="#fff" stroke-width="2.0879999999999996" stroke-linecap="round"/>
<path d="M2180.55 1210.20L2188.08 1214.55L2188.08 1223.25L2180.55 1227.60L2173.02 1223.25L2173.02 1214.55Z" fill="#0b0b0b" stroke="none" stroke-width="1" />
<path d="M2175.33 1216.29L2180.55 1213.51L2185.34 1216.29L2180.72 1219.07L2180.72 1224.64L2175.33 1221.68Z" fill="#f04a1c" stroke="none" stroke-width="1" />
<rect x="2211.28" y="1210.20" width="17.40" height="17.40" rx="3.48" fill="#62c1f5"/>
<rect x="2214.76" y="1215.42" width="8.00" height="6.96" rx="1.04" fill="#dff1fc" stroke="#2f7fc4" stroke-width="1.22"/>
<path d="M2223.46 1218.03L2226.24 1216.12L2226.24 1222.03L2223.46 1220.12Z" fill="#2f7fc4" stroke="none" stroke-width="1" />
<path d="M2254.54 1217.16L2261.15 1215.42L2263.76 1212.29L2263.24 1220.99L2257.67 1222.73Z" fill="#6e675c" stroke="none" stroke-width="1" />
<circle cx="2258.37" cy="1218.03" r="1.22" fill="#d8d4c8"/>
<circle cx="2253.15" cy="1217.86" r="0.87" fill="#e8e8e8"/>
<path d="M2260.80 1220.29L2266.72 1224.12" fill="none" stroke="#b8853c" stroke-width="1.0439999999999998" />
<path d="M2298.84 1210.20L2305.62 1214.55L2305.62 1223.25L2298.84 1227.60L2292.06 1223.25L2292.06 1214.55Z" fill="#d6d6d6" stroke="none" stroke-width="1" />
<path d="M2298.84 1213.51L2303.04 1216.20L2303.04 1221.60L2298.84 1224.29L2294.64 1221.60L2294.64 1216.20Z" fill="#2b2b2b" stroke="none" stroke-width="1" />
<path d="M2298.84 1218.90L2298.84 1224.29M2298.84 1218.90L2294.63 1216.20M2298.84 1218.90L2303.05 1216.20" fill="none" stroke="#d6d6d6" stroke-width="1.392" />
<path d="M2331.66 1222.38A6.61 9.74 0 0 1 2344.88 1222.38" fill="none" stroke="#1414e6" stroke-width="1.914" />
<rect x="2329.92" y="1218.55" width="2.78" height="6.96" rx="1.04" fill="#1414e6"/>
<rect x="2343.84" y="1218.55" width="2.78" height="6.96" rx="1.04" fill="#1414e6"/>
<ellipse cx="2338.27" cy="1221.51" rx="4.52" ry="4.18" fill="#f2a81d"/>
<rect x="2333.92" y="1220.64" width="8.70" height="2.09" fill="#e8351e"/>
<rect x="2369.00" y="1210.20" width="17.40" height="17.40" fill="#0d0d0d"/>
<path d="M2372.48 1215.42L2384.31 1215.42L2381.18 1218.55L2378.57 1219.25L2379.79 1221.68L2382.05 1223.08L2373.35 1223.08L2375.96 1221.34L2376.83 1219.25L2373.35 1217.86Z" fill="#f2f2f2" stroke="none" stroke-width="1" />
<rect x="2408.43" y="1210.20" width="17.40" height="17.40" fill="#d9ccc6"/>
<rect x="2411.69" y="1214.55" width="4.35" height="4.35" fill="#0c0c0c"/>
<rect x="2418.22" y="1214.55" width="4.35" height="4.35" fill="#0c0c0c"/>
<rect x="2414.96" y="1218.90" width="4.35" height="5.65" fill="#0c0c0c"/>
<rect x="2412.78" y="1221.08" width="2.61" height="5.65" fill="#0c0c0c"/>
<rect x="2418.87" y="1221.08" width="2.61" height="5.65" fill="#0c0c0c"/>
<rect x="2447.86" y="1210.20" width="17.40" height="17.40" fill="#050505"/>
<rect x="2449.60" y="1211.94" width="13.92" height="13.92" fill="#96613d"/>
<path d="M2449.60 1211.94L2463.52 1211.94L2463.52 1215.77L2460.91 1217.51L2458.30 1215.42L2455.69 1217.16L2453.08 1215.42L2449.60 1216.81Z" fill="#6fbf3a" stroke="none" stroke-width="1" />
<rect x="2453.08" y="1220.64" width="2.09" height="2.09" fill="#b9906e"/>
<rect x="2458.30" y="1218.90" width="2.09" height="2.09" fill="#7a4c2e"/>
<circle cx="2495.99" cy="1218.90" r="8.35" fill="#174a82"/>
<path d="M2487.64 1218.90A8.35 8.35 0 0 1 2504.34 1218.90Z" fill="#0f2c57" stroke="none" stroke-width="1" />
<circle cx="2498.91" cy="1216.39" r="3.01" fill="none" stroke="#f0f4f8" stroke-width="1.57"/>
<path d="M2496.83 1218.48L2489.73 1221.41" fill="none" stroke="#f0f4f8" stroke-width="2.784" stroke-linecap="round"/>
<circle cx="2492.65" cy="1221.41" r="2.00" fill="#f0f4f8"/>
<circle cx="2535.42" cy="1218.90" r="8.70" fill="#07070c"/>
<circle cx="2535.42" cy="1218.90" r="4.79" fill="none" stroke="#d8d8dc" stroke-width="1.22" stroke-dasharray="1.74 0.87"/>
<circle cx="2535.42" cy="1218.90" r="2.44" fill="none" stroke="#d8d8dc" stroke-width="1.04" stroke-dasharray="1.22 0.87"/>
<ellipse cx="2574.85" cy="1215.42" rx="8.00" ry="2.78" fill="#f3d9b5" transform="rotate(-8 2574.85 1218.90)"/>
<ellipse cx="2574.85" cy="1215.42" rx="5.22" ry="1.39" fill="#d9965a" transform="rotate(-8 2574.85 1218.90)"/>
<path d="M2567.54 1217.16Q2574.85 1220.64 2582.16 1215.42Q2577.46 1222.38 2571.02 1226.21Q2571.37 1221.51 2567.54 1217.16Z" fill="#efc9a0" stroke="none" stroke-width="1" />
<rect x="2605.58" y="1210.20" width="17.40" height="17.40" fill="#000"/>
<path d="M2615.15 1211.07L2611.67 1218.03L2612.54 1226.73L2615.15 1222.38L2617.76 1226.73L2619.50 1222.38L2622.11 1226.73L2622.11 1218.90L2617.76 1218.03L2621.24 1212.81L2617.76 1214.55Z" fill="#7a1de0" stroke="none" stroke-width="1" />
<rect x="2645.01" y="1210.20" width="17.40" height="17.40" fill="#0a0508"/>
<path d="M2645.01 1210.20L2651.10 1210.20Q2645.88 1218.90 2651.10 1227.60L2645.01 1227.60Z" fill="#b0104a" stroke="none" stroke-width="1" />
<path d="M2654.58 1211.07L2650.58 1218.03L2651.97 1226.73L2654.58 1222.38L2657.19 1226.73L2658.93 1222.38L2661.54 1226.73L2661.54 1218.90L2657.19 1218.03L2660.67 1212.81L2657.19 1214.55Z" fill="#135f86" stroke="none" stroke-width="1" />
<circle cx="2693.14" cy="1218.90" r="8.70" fill="#5865f2"/>
<path d="M2688.36 1221.68Q2687.92 1217.16 2690.10 1215.59Q2693.14 1214.55 2696.19 1215.59Q2698.36 1217.16 2697.93 1221.68Q2696.19 1222.82 2694.88 1221.51L2691.40 1221.51Q2690.10 1222.82 2688.36 1221.68Z" fill="#fff" stroke="none" stroke-width="1" />
<ellipse cx="2691.40" cy="1219.07" rx="0.96" ry="1.13" fill="#5865f2"/>
<ellipse cx="2694.88" cy="1219.07" rx="0.96" ry="1.13" fill="#5865f2"/>
<rect x="2725.26" y="1213.33" width="14.62" height="11.14" fill="#bfe5fa" stroke="#2f9be8" stroke-width="1.39"/>
<circle cx="2729.65" cy="1218.01" r="2.45" fill="#f7b733"/>
<path d="M2729.65 1218.01L2729.65 1215.56A2.45 2.45 0 0 1 2732.10 1218.01Z" fill="#2f9be8" stroke="none" stroke-width="1" />
<rect x="2734.03" y="1215.56" width="1.46" height="1.34" fill="#2f9be8"/>
<rect x="2736.08" y="1215.56" width="1.75" height="1.34" fill="#f4fbff"/>
<rect x="2734.03" y="1218.01" width="1.46" height="1.34" fill="#2f9be8"/>
<rect x="2736.08" y="1218.01" width="1.75" height="1.34" fill="#f4fbff"/>
<rect x="2734.03" y="1220.46" width="1.46" height="1.34" fill="#2f9be8"/>
<rect x="2736.08" y="1220.46" width="1.75" height="1.34" fill="#f4fbff"/>
<rect x="2727.31" y="1221.80" width="4.38" height="1.11" fill="#f7b733"/>
<path d="M3669.2 1222L3675 1216.2L3680.8 1222" fill="none" stroke="#f0f0f0" stroke-width="1.1" />
<rect x="3694.2" y="1212.8" width="15.4" height="10.2" fill="none" stroke="#f0f0f0" stroke-width="1.0"/>
<line x1="3701.30" y1="1223.00" x2="3701.30" y2="1225.60" stroke="#f0f0f0" stroke-width="1.0" />
<line x1="3697.60" y1="1225.80" x2="3705.40" y2="1225.80" stroke="#f0f0f0" stroke-width="1.0" />
<rect x="3692.8" y="1212.4" width="3.2" height="4" fill="#1b1b1b" stroke="#f0f0f0" stroke-width="0.8"/>
<line x1="3694.20" y1="1216.40" x2="3694.20" y2="1226.00" stroke="#f0f0f0" stroke-width="0.9" />
<path d="M3718.2 1216.4L3720.6 1216.4L3723.8 1213.2L3723.8 1225L3720.6 1221.8L3718.2 1221.8Z" fill="none" stroke="#f0f0f0" stroke-width="1.0" />
<path d="M3726.6 1216.8A3.2 3.2 0 0 1 3726.6 1221.4" fill="none" stroke="#f0f0f0" stroke-width="0.9" />
<path d="M3729 1214.6A6 6 0 0 1 3729 1223.6" fill="none" stroke="#e0e0e0" stroke-width="0.9" />
<path d="M3731.6 1212A9.4 9.4 0 0 1 3731.6 1226.2" fill="none" stroke="#c8c8c8" stroke-width="0.9" />
<path d="M3795.9 1210.2L3813.9 1210.2L3813.9 1224.2L3806.4 1224.2L3804.9 1226.6L3803.4 1224.2L3795.9 1224.2Z" fill="#fff" stroke="none" stroke-width="1" />
<line x1="3799.40" y1="1214.00" x2="3810.40" y2="1214.00" stroke="#9a9a9a" stroke-width="1.0" />
<line x1="3799.40" y1="1217.20" x2="3810.40" y2="1217.20" stroke="#9a9a9a" stroke-width="1.0" />
<line x1="3799.40" y1="1220.40" x2="3806.40" y2="1220.40" stroke="#9a9a9a" stroke-width="1.0" />
<line x1="3835.80" y1="1202.50" x2="3835.80" y2="1235.00" stroke="#5a5a5a" stroke-width="0.8" />
<path d="M8.40 907.92L14.82 907.09L14.82 912.82L8.40 912.82Z" fill="#fff" stroke="none" stroke-width="1" />
<path d="M15.78 906.95L22.20 905.85L22.20 912.82L15.78 912.82Z" fill="#fff" stroke="none" stroke-width="1" />
<path d="M8.40 913.78L14.82 913.78L14.82 919.51L8.40 918.68Z" fill="#fff" stroke="none" stroke-width="1" />
<path d="M15.78 913.78L22.20 913.78L22.20 920.75L15.78 919.65Z" fill="#fff" stroke="none" stroke-width="1" />
<circle cx="48.74" cy="911.06" r="4.80" fill="none" stroke="#f4f4f4" stroke-width="1.5"/>
<line x1="45.22" y1="914.58" x2="39.14" y2="920.66" stroke="#f4f4f4" stroke-width="1.5" />
<rect x="667.10" y="900.30" width="30.80" height="26.30" fill="#454545" />
<rect x="694.80" y="900.30" width="3.10" height="26.30" fill="#3a3a3a" />
<rect x="667.10" y="924.40" width="30.80" height="2.20" fill="#76b9ed" />
<rect x="67.80" y="924.40" width="24.00" height="2.20" fill="#76b9ed" />
<rect x="131.00" y="924.40" width="24.00" height="2.20" fill="#76b9ed" />
<circle cx="79.70" cy="913.40" r="6.86" fill="#e5402f"/>
<path d="M79.70 913.40L85.64 909.97A6.86 6.86 0 0 1 79.70 920.26Z" fill="#f7c51e" stroke="none" stroke-width="1" />
<path d="M79.70 913.40L79.70 920.26A6.86 6.86 0 0 1 73.76 909.97Z" fill="#2fa650" stroke="none" stroke-width="1" />
<circle cx="79.70" cy="913.40" r="3.16" fill="#f4f4f4"/>
<circle cx="79.70" cy="913.40" r="2.47" fill="#3b82f0"/>
<circle cx="83.27" cy="917.38" r="2.88" fill="#536b76"/>
<circle cx="113.12" cy="908.78" r="2.10" fill="#7b83eb"/>
<circle cx="117.04" cy="910.32" r="1.40" fill="#5b62d6"/>
<rect x="110.32" y="911.30" width="5.88" height="8.12" rx="1.96" fill="#7b83eb"/>
<rect x="114.94" y="912.00" width="3.50" height="5.60" rx="1.40" fill="#5b62d6"/>
<rect x="104.44" y="909.48" width="7.84" height="7.84" rx="0.70" fill="#4b53bc"/>
<rect x="136.18" y="907.80" width="6.30" height="2.80" rx="0.56" fill="#f0b429"/>
<rect x="136.18" y="909.20" width="14.00" height="9.52" rx="0.42" fill="#fbd45c"/>
<rect x="138.70" y="914.10" width="8.96" height="5.32" fill="#3a9be8"/>
<rect x="140.66" y="915.92" width="5.04" height="3.50" fill="#f5c543"/>
<rect x="169.04" y="907.10" width="11.20" height="12.60" fill="#ecebe6"/>
<rect x="170.44" y="906.82" width="8.40" height="1.96" fill="#c9b018"/>
<line x1="170.44" y1="912.00" x2="177.44" y2="912.00" stroke="#c8c8c4" stroke-width="1" />
<line x1="170.44" y1="914.80" x2="176.04" y2="914.80" stroke="#c8c8c4" stroke-width="1" />
<path d="M173.24 916.62L181.92 911.30" fill="none" stroke="#d89a3c" stroke-width="1.82" />
<path d="M181.08 911.86L182.34 911.02" fill="none" stroke="#d5453a" stroke-width="1.82" />
<circle cx="206.66" cy="913.12" r="6.58" fill="#f2f6f2"/>
<path d="M200.41 919.98L201.40 915.37L205.34 918.99Z" fill="#f2f6f2" stroke="none" stroke-width="1" />
<circle cx="206.66" cy="913.12" r="5.40" fill="#35c25a"/>
<path d="M204.55 910.64Q204.69 915.37 209.16 915.37" fill="none" stroke="#fff" stroke-width="1.68" stroke-linecap="round"/>
<path d="M238.40 906.40L244.46 909.90L244.46 916.90L238.40 920.40L232.34 916.90L232.34 909.90Z" fill="#0b0b0b" stroke="none" stroke-width="1" />
<path d="M234.20 911.30L238.40 909.06L242.25 911.30L238.54 913.54L238.54 918.02L234.20 915.64Z" fill="#f04a1c" stroke="none" stroke-width="1" />
<rect x="263.14" y="906.40" width="14.00" height="14.00" rx="2.80" fill="#62c1f5"/>
<rect x="265.94" y="910.60" width="6.44" height="5.60" rx="0.84" fill="#dff1fc" stroke="#2f7fc4" stroke-width="0.98"/>
<path d="M272.94 912.70L275.18 911.16L275.18 915.92L272.94 914.38Z" fill="#2f7fc4" stroke="none" stroke-width="1" />
<path d="M297.96 912.00L303.28 910.60L305.38 908.08L304.96 915.08L300.48 916.48Z" fill="#6e675c" stroke="none" stroke-width="1" />
<circle cx="301.04" cy="912.70" r="0.98" fill="#d8d4c8"/>
<circle cx="296.84" cy="912.56" r="0.70" fill="#e8e8e8"/>
<path d="M303.00 914.52L307.76 917.60" fill="none" stroke="#b8853c" stroke-width="0.84" />
<path d="M333.62 906.40L339.08 909.90L339.08 916.90L333.62 920.40L328.16 916.90L328.16 909.90Z" fill="#d6d6d6" stroke="none" stroke-width="1" />
<path d="M333.62 909.06L337.00 911.23L337.00 915.57L333.62 917.74L330.24 915.57L330.24 911.23Z" fill="#2b2b2b" stroke="none" stroke-width="1" />
<path d="M333.62 913.40L333.62 917.74M333.62 913.40L330.23 911.23M333.62 913.40L337.01 911.23" fill="none" stroke="#d6d6d6" stroke-width="1.12" />
<path d="M360.04 916.20A5.32 7.84 0 0 1 370.68 916.20" fill="none" stroke="#1414e6" stroke-width="1.54" />
<rect x="358.64" y="913.12" width="2.24" height="5.60" rx="0.84" fill="#1414e6"/>
<rect x="369.84" y="913.12" width="2.24" height="5.60" rx="0.84" fill="#1414e6"/>
<ellipse cx="365.36" cy="915.50" rx="3.64" ry="3.36" fill="#f2a81d"/>
<rect x="361.86" y="914.80" width="7.00" height="1.68" fill="#e8351e"/>
<rect x="390.10" y="906.40" width="14.00" height="14.00" fill="#0d0d0d"/>
<path d="M392.90 910.60L402.42 910.60L399.90 913.12L397.80 913.68L398.78 915.64L400.60 916.76L393.60 916.76L395.70 915.36L396.40 913.68L393.60 912.56Z" fill="#f2f2f2" stroke="none" stroke-width="1" />
<rect x="421.84" y="906.40" width="14.00" height="14.00" fill="#d9ccc6"/>
<rect x="424.46" y="909.90" width="3.50" height="3.50" fill="#0c0c0c"/>
<rect x="429.71" y="909.90" width="3.50" height="3.50" fill="#0c0c0c"/>
<rect x="427.09" y="913.40" width="3.50" height="4.55" fill="#0c0c0c"/>
<rect x="425.34" y="915.15" width="2.10" height="4.55" fill="#0c0c0c"/>
<rect x="430.24" y="915.15" width="2.10" height="4.55" fill="#0c0c0c"/>
<rect x="453.58" y="906.40" width="14.00" height="14.00" fill="#050505"/>
<rect x="454.98" y="907.80" width="11.20" height="11.20" fill="#96613d"/>
<path d="M454.98 907.80L466.18 907.80L466.18 910.88L464.08 912.28L461.98 910.60L459.88 912.00L457.78 910.60L454.98 911.72Z" fill="#6fbf3a" stroke="none" stroke-width="1" />
<rect x="457.78" y="914.80" width="1.68" height="1.68" fill="#b9906e"/>
<rect x="461.98" y="913.40" width="1.68" height="1.68" fill="#7a4c2e"/>
<circle cx="492.32" cy="913.40" r="6.72" fill="#174a82"/>
<path d="M485.60 913.40A6.72 6.72 0 0 1 499.04 913.40Z" fill="#0f2c57" stroke="none" stroke-width="1" />
<circle cx="494.67" cy="911.38" r="2.42" fill="none" stroke="#f0f4f8" stroke-width="1.26"/>
<path d="M492.99 913.06L487.28 915.42" fill="none" stroke="#f0f4f8" stroke-width="2.24" stroke-linecap="round"/>
<circle cx="489.63" cy="915.42" r="1.61" fill="#f0f4f8"/>
<circle cx="524.06" cy="913.40" r="7.00" fill="#07070c"/>
<circle cx="524.06" cy="913.40" r="3.85" fill="none" stroke="#d8d8dc" stroke-width="0.98" stroke-dasharray="1.40 0.70"/>
<circle cx="524.06" cy="913.40" r="1.96" fill="none" stroke="#d8d8dc" stroke-width="0.84" stroke-dasharray="0.98 0.70"/>
<ellipse cx="555.80" cy="910.60" rx="6.44" ry="2.24" fill="#f3d9b5" transform="rotate(-8 555.80 913.40)"/>
<ellipse cx="555.80" cy="910.60" rx="4.20" ry="1.12" fill="#d9965a" transform="rotate(-8 555.80 913.40)"/>
<path d="M549.92 912.00Q555.80 914.80 561.68 910.60Q557.90 916.20 552.72 919.28Q553.00 915.50 549.92 912.00Z" fill="#efc9a0" stroke="none" stroke-width="1" />
<rect x="580.54" y="906.40" width="14.00" height="14.00" fill="#000"/>
<path d="M588.24 907.10L585.44 912.70L586.14 919.70L588.24 916.20L590.34 919.70L591.74 916.20L593.84 919.70L593.84 913.40L590.34 912.70L593.14 908.50L590.34 909.90Z" fill="#7a1de0" stroke="none" stroke-width="1" />
<rect x="612.28" y="906.40" width="14.00" height="14.00" fill="#0a0508"/>
<path d="M612.28 906.40L617.18 906.40Q612.98 913.40 617.18 920.40L612.28 920.40Z" fill="#b0104a" stroke="none" stroke-width="1" />
<path d="M619.98 907.10L616.76 912.70L617.88 919.70L619.98 916.20L622.08 919.70L623.48 916.20L625.58 919.70L625.58 913.40L622.08 912.70L624.88 908.50L622.08 909.90Z" fill="#135f86" stroke="none" stroke-width="1" />
<circle cx="651.02" cy="913.40" r="7.00" fill="#5865f2"/>
<path d="M647.17 915.64Q646.82 912.00 648.57 910.74Q651.02 909.90 653.47 910.74Q655.22 912.00 654.87 915.64Q653.47 916.55 652.42 915.50L649.62 915.50Q648.57 916.55 647.17 915.64Z" fill="#fff" stroke="none" stroke-width="1" />
<ellipse cx="649.62" cy="913.54" rx="0.77" ry="0.91" fill="#5865f2"/>
<ellipse cx="652.42" cy="913.54" rx="0.77" ry="0.91" fill="#5865f2"/>
<rect x="676.88" y="908.92" width="11.76" height="8.96" fill="#bfe5fa" stroke="#2f9be8" stroke-width="1.12"/>
<circle cx="680.41" cy="912.68" r="1.97" fill="#f7b733"/>
<path d="M680.41 912.68L680.41 910.71A1.97 1.97 0 0 1 682.38 912.68Z" fill="#2f9be8" stroke="none" stroke-width="1" />
<rect x="683.94" y="910.71" width="1.18" height="1.08" fill="#2f9be8"/>
<rect x="685.58" y="910.71" width="1.41" height="1.08" fill="#f4fbff"/>
<rect x="683.94" y="912.68" width="1.18" height="1.08" fill="#2f9be8"/>
<rect x="685.58" y="912.68" width="1.41" height="1.08" fill="#f4fbff"/>
<rect x="683.94" y="914.65" width="1.18" height="1.08" fill="#2f9be8"/>
<rect x="685.58" y="914.65" width="1.41" height="1.08" fill="#f4fbff"/>
<rect x="678.53" y="915.73" width="3.53" height="0.90" fill="#f7b733"/>
</svg>
<span class="t" style="left:20.23px;top:4.00px;font-size:10.7px;color:#9c9c9c;transform:scaleX(0.9581);">Zuverlässigkeitsüberwachung</span>
<span class="t" style="left:124.95px;top:33.00px;font-size:11.0px;color:#f0f0f0;transform:scaleX(0.9103);">Systemsteuerung</span>
<span class="t" style="left:220.14px;top:33.00px;font-size:11.0px;color:#f0f0f0;transform:scaleX(0.9188);">System und Sicherheit</span>
<span class="t" style="left:337.73px;top:33.00px;font-size:11.0px;color:#f0f0f0;transform:scaleX(0.9370);">Sicherheit und Wartung</span>
<span class="t" style="left:462.24px;top:33.00px;font-size:11.0px;color:#f0f0f0;transform:scaleX(0.9228);">Zuverlässigkeitsüberwachung</span>
<span class="t" style="left:1542.87px;top:33.00px;font-size:11.0px;color:#7d7d7d;transform:scaleX(0.8823);">Systemsteueru...</span>
<span class="t" style="left:9.33px;top:77.00px;font-size:13.4px;color:#1f47b6;transform:scaleX(0.9976);">Überprüfen Sie den Zuverlässigkeits- und Problemverlauf des Computers.</span>
<span class="t" style="left:9.54px;top:106.00px;font-size:10.7px;color:#2c2c2c;transform:scaleX(0.9541);">Der Stabilitätsindex dient der Bewertung der Systemgesamtstabilität auf einer Skala von 1 bis 10. Durch die Auswahl eines bestimmten Zeitraums können Sie die speziellen Hardware- und Softwareprobleme überprüfen, die das System beeinflusst haben.</span>
<span class="t" style="left:9.53px;top:153.00px;font-size:10.7px;color:#2c2c2c;transform:scaleX(0.9615);">Anzeige:</span>
<span class="t b" style="left:51.54px;top:153.00px;font-size:10.7px;color:#0b63ce;transform:scaleX(0.9518);">Tage</span>
<span class="t" style="left:76.80px;top:153.00px;font-size:10.7px;color:#2c2c2c;">|</span>
<span class="t" style="left:82.04px;top:153.00px;font-size:10.7px;color:#1a73d6;transform:scaleX(0.9532);">Wochen</span>
<span class="t" style="left:1370.55px;top:153.00px;font-size:10.7px;color:#2c2c2c;transform:scaleX(0.9335);">Letzte Aktualisierung: 08.10.2023 00:00</span>
<span class="t" style="left:74.95px;top:334.25px;font-size:8.9px;color:#2c2c2c;transform-origin:0 0;transform:rotate(28deg) scaleX(0.8927);">19.09.2023</span>
<span class="t" style="left:223.89px;top:334.25px;font-size:8.9px;color:#2c2c2c;transform-origin:0 0;transform:rotate(28deg) scaleX(0.8927);">21.09.2023</span>
<span class="t" style="left:372.83px;top:334.25px;font-size:8.9px;color:#2c2c2c;transform-origin:0 0;transform:rotate(28deg) scaleX(0.8927);">23.09.2023</span>
<span class="t" style="left:521.77px;top:334.25px;font-size:8.9px;color:#2c2c2c;transform-origin:0 0;transform:rotate(28deg) scaleX(0.8927);">25.09.2023</span>
<span class="t" style="left:670.71px;top:334.25px;font-size:8.9px;color:#2c2c2c;transform-origin:0 0;transform:rotate(28deg) scaleX(0.8927);">27.09.2023</span>
<span class="t" style="left:819.65px;top:334.25px;font-size:8.9px;color:#2c2c2c;transform-origin:0 0;transform:rotate(28deg) scaleX(0.8927);">29.09.2023</span>
<span class="t" style="left:968.59px;top:334.25px;font-size:8.9px;color:#2c2c2c;transform-origin:0 0;transform:rotate(28deg) scaleX(0.8927);">01.10.2023</span>
<span class="t" style="left:1117.53px;top:334.25px;font-size:8.9px;color:#2c2c2c;transform-origin:0 0;transform:rotate(28deg) scaleX(0.8927);">03.10.2023</span>
<span class="t" style="left:1266.47px;top:334.25px;font-size:8.9px;color:#2c2c2c;transform-origin:0 0;transform:rotate(28deg) scaleX(0.8927);">05.10.2023</span>
<span class="t" style="left:1415.41px;top:334.25px;font-size:8.9px;color:#2c2c2c;transform-origin:0 0;transform:rotate(28deg) scaleX(0.8927);">07.10.2023</span>
<span class="t" style="left:26.44px;top:174.00px;font-size:10.7px;color:#2c2c2c;transform:scaleX(0.9496);">10</span>
<span class="t" style="left:31.48px;top:208.00px;font-size:10.7px;color:#2c2c2c;transform:scaleX(1.0400);">5</span>
<span class="t" style="left:32.59px;top:242.00px;font-size:10.7px;color:#2c2c2c;transform:scaleX(0.8720);">1</span>
<span class="t" style="left:1547.33px;top:259.00px;font-size:10.7px;color:#2c2c2c;transform:scaleX(0.9655);">Anwendungsfehler</span>
<span class="t" style="left:1547.33px;top:273.00px;font-size:10.7px;color:#2c2c2c;transform:scaleX(0.9660);">Windows-Fehler</span>
<span class="t" style="left:1547.36px;top:286.00px;font-size:10.7px;color:#2c2c2c;transform:scaleX(0.9272);">Verschiedene Fehler</span>
<span class="t" style="left:1547.33px;top:300.00px;font-size:10.7px;color:#2c2c2c;transform:scaleX(0.9568);">Warnungen</span>
<span class="t" style="left:1547.30px;top:314.00px;font-size:10.7px;color:#2c2c2c;transform:scaleX(1.0035);">Informationen</span>
<span class="t" style="left:9.55px;top:372.00px;font-size:10.7px;color:#2c2c2c;transform:scaleX(0.9359);">Zuverlässigkeitsdetails für: 28.09.2023</span>
<span class="t" style="left:14.11px;top:391.00px;font-size:10.7px;color:#2c2c2c;transform:scaleX(0.9898);">Quelle</span>
<span class="t" style="left:171.75px;top:391.00px;font-size:10.7px;color:#2c2c2c;transform:scaleX(0.9384);">Zusammenfassung</span>
<span class="t" style="left:329.40px;top:391.00px;font-size:10.7px;color:#2c2c2c;transform:scaleX(1.0129);">Datum</span>
<span class="t" style="left:425.49px;top:391.00px;font-size:10.7px;color:#2c2c2c;transform:scaleX(1.0226);">Aktion</span>
<span class="t" style="left:31.65px;top:408.00px;font-size:10.7px;color:#1e46b8;transform:scaleX(0.9390);">Kritische Ereignisse (4)</span>
<span class="t" style="left:41.41px;top:426.00px;font-size:10.7px;color:#2c2c2c;transform:scaleX(0.9892);">Windows</span>
<span class="t" style="left:171.74px;top:426.00px;font-size:10.7px;color:#2c2c2c;transform:scaleX(0.9541);">Windows wurde nicht ordnungs...</span>
<span class="t" style="left:329.46px;top:426.00px;font-size:10.7px;color:#2c2c2c;transform:scaleX(0.9208);">28.09.2023 11:37</span>
<span class="t" style="left:425.57px;top:426.00px;font-size:10.7px;color:#1a73d6;transform:scaleX(0.9048);">Technische De...</span>
<span class="t" style="left:41.41px;top:443.00px;font-size:10.7px;color:#2c2c2c;transform:scaleX(0.9892);">Windows</span>
<span class="t" style="left:171.74px;top:443.00px;font-size:10.7px;color:#2c2c2c;transform:scaleX(0.9541);">Windows wurde nicht ordnungs...</span>
<span class="t" style="left:329.47px;top:443.00px;font-size:10.7px;color:#2c2c2c;transform:scaleX(0.9119);">28.09.2023 18:39</span>
<span class="t" style="left:425.57px;top:443.00px;font-size:10.7px;color:#1a73d6;transform:scaleX(0.9048);">Technische De...</span>
<span class="t" style="left:41.41px;top:460.00px;font-size:10.7px;color:#2c2c2c;transform:scaleX(0.9892);">Windows</span>
<span class="t" style="left:171.74px;top:460.00px;font-size:10.7px;color:#2c2c2c;transform:scaleX(0.9541);">Windows wurde nicht ordnungs...</span>
<span class="t" style="left:329.47px;top:460.00px;font-size:10.7px;color:#2c2c2c;transform:scaleX(0.9119);">28.09.2023 18:48</span>
<span class="t" style="left:425.57px;top:460.00px;font-size:10.7px;color:#1a73d6;transform:scaleX(0.9048);">Technische De...</span>
<span class="t" style="left:41.41px;top:477.00px;font-size:10.7px;color:#2c2c2c;transform:scaleX(0.9892);">Windows</span>
<span class="t" style="left:171.74px;top:477.00px;font-size:10.7px;color:#2c2c2c;transform:scaleX(0.9541);">Windows wurde nicht ordnungs...</span>
<span class="t" style="left:329.47px;top:477.00px;font-size:10.7px;color:#2c2c2c;transform:scaleX(0.9119);">28.09.2023 19:32</span>
<span class="t" style="left:425.57px;top:477.00px;font-size:10.7px;color:#1a73d6;transform:scaleX(0.9048);">Technische De...</span>
<span class="t" style="left:31.63px;top:497.00px;font-size:10.7px;color:#1e46b8;transform:scaleX(0.9646);">Informationsereignisse (6)</span>
<span class="t" style="left:41.42px;top:515.00px;font-size:10.7px;color:#2c2c2c;transform:scaleX(0.9787);">Microsoft GameInput</span>
<span class="t" style="left:171.72px;top:515.00px;font-size:10.7px;color:#2c2c2c;transform:scaleX(0.9744);">Die Neukonfiguration der Anw...</span>
<span class="t" style="left:329.46px;top:515.00px;font-size:10.7px;color:#2c2c2c;transform:scaleX(0.9208);">28.09.2023 11:37</span>
<span class="t" style="left:425.57px;top:515.00px;font-size:10.7px;color:#1a73d6;transform:scaleX(0.9048);">Technische De...</span>
<span class="t" style="left:41.46px;top:532.00px;font-size:10.7px;color:#2c2c2c;transform:scaleX(0.9185);">9NBLGGH4NNS1-Microso...</span>
<span class="t" style="left:171.73px;top:532.00px;font-size:10.7px;color:#2c2c2c;transform:scaleX(0.9665);">Windows Update war erfolgrei...</span>
<span class="t" style="left:329.46px;top:532.00px;font-size:10.7px;color:#2c2c2c;transform:scaleX(0.9208);">28.09.2023 11:58</span>
<span class="t" style="left:425.57px;top:532.00px;font-size:10.7px;color:#1a73d6;transform:scaleX(0.9048);">Technische De...</span>
<span class="t" style="left:41.48px;top:549.00px;font-size:10.7px;color:#2c2c2c;transform:scaleX(0.8953);">9NKSQGP7F2NH-5319275...</span>
<span class="t" style="left:171.73px;top:549.00px;font-size:10.7px;color:#2c2c2c;transform:scaleX(0.9665);">Windows Update war erfolgrei...</span>
<span class="t" style="left:329.46px;top:549.00px;font-size:10.7px;color:#2c2c2c;transform:scaleX(0.9208);">28.09.2023 11:58</span>
<span class="t" style="left:425.57px;top:549.00px;font-size:10.7px;color:#1a73d6;transform:scaleX(0.9048);">Technische De...</span>
<span class="t" style="left:41.42px;top:566.00px;font-size:10.7px;color:#2c2c2c;transform:scaleX(0.9787);">Microsoft GameInput</span>
<span class="t" style="left:171.72px;top:566.00px;font-size:10.7px;color:#2c2c2c;transform:scaleX(0.9744);">Die Neukonfiguration der Anw...</span>
<span class="t" style="left:329.47px;top:566.00px;font-size:10.7px;color:#2c2c2c;transform:scaleX(0.9119);">28.09.2023 18:39</span>
<span class="t" style="left:425.57px;top:566.00px;font-size:10.7px;color:#1a73d6;transform:scaleX(0.9048);">Technische De...</span>
<span class="t" style="left:41.42px;top:583.00px;font-size:10.7px;color:#2c2c2c;transform:scaleX(0.9787);">Microsoft GameInput</span>
<span class="t" style="left:171.72px;top:583.00px;font-size:10.7px;color:#2c2c2c;transform:scaleX(0.9744);">Die Neukonfiguration der Anw...</span>
<span class="t" style="left:329.47px;top:583.00px;font-size:10.7px;color:#2c2c2c;transform:scaleX(0.9119);">28.09.2023 18:48</span>
<span class="t" style="left:425.57px;top:583.00px;font-size:10.7px;color:#1a73d6;transform:scaleX(0.9048);">Technische De...</span>
<span class="t" style="left:41.42px;top:600.00px;font-size:10.7px;color:#2c2c2c;transform:scaleX(0.9787);">Microsoft GameInput</span>
<span class="t" style="left:171.72px;top:600.00px;font-size:10.7px;color:#2c2c2c;transform:scaleX(0.9744);">Die Neukonfiguration der Anw...</span>
<span class="t" style="left:329.47px;top:600.00px;font-size:10.7px;color:#2c2c2c;transform:scaleX(0.9119);">28.09.2023 19:32</span>
<span class="t" style="left:425.57px;top:600.00px;font-size:10.7px;color:#1a73d6;transform:scaleX(0.9048);">Technische De...</span>
<span class="t" style="left:26.45px;top:875.00px;font-size:10.7px;color:#1a73d6;transform:scaleX(0.9309);">Zuverlässigkeitsverlauf speichern...</span>
<span class="t" style="left:198.32px;top:875.00px;font-size:10.7px;color:#1a73d6;transform:scaleX(0.9753);">Alle Problemberichte anzeigen</span>
<span class="t" style="left:1600.30px;top:878.00px;font-size:10.7px;color:#2c2c2c;transform:scaleX(0.9636);">OK</span>
<span class="t" style="left:1668.47px;top:6.00px;font-size:13.4px;color:#fff;transform:scaleX(0.9475);">Zuverlässigkeitsüberwachung</span>
<span class="t" style="left:1800.69px;top:40.00px;font-size:13.8px;color:#f0f0f0;transform:scaleX(0.9070);">Systemsteuerung</span>
<span class="t" style="left:1920.18px;top:40.00px;font-size:13.8px;color:#f0f0f0;transform:scaleX(0.9091);">System und Sicherheit</span>
<span class="t" style="left:2067.77px;top:40.00px;font-size:13.8px;color:#f0f0f0;transform:scaleX(0.9243);">Sicherheit und Wartung</span>
<span class="t" style="left:2222.38px;top:40.00px;font-size:13.8px;color:#f0f0f0;transform:scaleX(0.9187);">Zuverlässigkeitsüberwachung</span>
<span class="t" style="left:3710.92px;top:40.00px;font-size:13.8px;color:#7d7d7d;transform:scaleX(0.8731);">Systemsteueru...</span>
<span class="t" style="left:1656.61px;top:96.00px;font-size:16.7px;color:#1f47b6;">Überprüfen Sie den Zuverlässigkeits- und Problemverlauf des Computers.</span>
<span class="t" style="left:1656.87px;top:132.00px;font-size:13.4px;color:#1e1e1e;transform:scaleX(0.9514);">Der Stabilitätsindex dient der Bewertung der Systemgesamtstabilität auf einer Skala von 1 bis 10. Durch die Auswahl eines bestimmten Zeitraums können Sie die speziellen Hardware- und Softwareprobleme überprüfen, die das System beeinflusst haben.</span>
<span class="t" style="left:1656.87px;top:191.00px;font-size:13.4px;color:#1e1e1e;transform:scaleX(0.9562);">Anzeige:</span>
<span class="t b" style="left:1709.06px;top:191.00px;font-size:13.4px;color:#0b63ce;transform:scaleX(0.9596);">Tage</span>
<span class="t" style="left:1741.13px;top:191.00px;font-size:13.4px;color:#1e1e1e;">|</span>
<span class="t" style="left:1747.27px;top:191.00px;font-size:13.4px;color:#1a73d6;transform:scaleX(0.9561);">Wochen</span>
<span class="t" style="left:3494.99px;top:191.00px;font-size:13.4px;color:#1e1e1e;transform:scaleX(0.9315);">Letzte Aktualisierung: 08.10.2023 00:00</span>
<span class="t" style="left:1741.84px;top:416.43px;font-size:11.0px;color:#1e1e1e;transform-origin:0 0;transform:rotate(28deg) scaleX(0.8977);">19.09.2023</span>
<span class="t" style="left:1941.75px;top:416.43px;font-size:11.0px;color:#1e1e1e;transform-origin:0 0;transform:rotate(28deg) scaleX(0.8977);">21.09.2023</span>
<span class="t" style="left:2141.66px;top:416.43px;font-size:11.0px;color:#1e1e1e;transform-origin:0 0;transform:rotate(28deg) scaleX(0.8977);">23.09.2023</span>
<span class="t" style="left:2341.57px;top:416.43px;font-size:11.0px;color:#1e1e1e;transform-origin:0 0;transform:rotate(28deg) scaleX(0.8977);">25.09.2023</span>
<span class="t" style="left:2541.48px;top:416.43px;font-size:11.0px;color:#1e1e1e;transform-origin:0 0;transform:rotate(28deg) scaleX(0.8977);">27.09.2023</span>
<span class="t" style="left:2741.39px;top:416.43px;font-size:11.0px;color:#1e1e1e;transform-origin:0 0;transform:rotate(28deg) scaleX(0.8977);">29.09.2023</span>
<span class="t" style="left:2941.30px;top:416.43px;font-size:11.0px;color:#1e1e1e;transform-origin:0 0;transform:rotate(28deg) scaleX(0.8977);">01.10.2023</span>
<span class="t" style="left:3141.21px;top:416.43px;font-size:11.0px;color:#1e1e1e;transform-origin:0 0;transform:rotate(28deg) scaleX(0.8977);">03.10.2023</span>
<span class="t" style="left:3341.12px;top:416.43px;font-size:11.0px;color:#1e1e1e;transform-origin:0 0;transform:rotate(28deg) scaleX(0.8977);">05.10.2023</span>
<span class="t" style="left:3541.03px;top:416.43px;font-size:11.0px;color:#1e1e1e;transform-origin:0 0;transform:rotate(28deg) scaleX(0.8977);">07.10.2023</span>
<span class="t" style="left:1678.17px;top:217.00px;font-size:13.4px;color:#1e1e1e;transform:scaleX(0.9487);">10</span>
<span class="t" style="left:1684.50px;top:259.00px;font-size:13.4px;color:#1e1e1e;transform:scaleX(1.0388);">5</span>
<span class="t" style="left:1685.84px;top:301.00px;font-size:13.4px;color:#1e1e1e;transform:scaleX(0.8778);">1</span>
<span class="t" style="left:3716.06px;top:323.00px;font-size:13.4px;color:#1e1e1e;transform:scaleX(0.9631);">Anwendungsfehler</span>
<span class="t" style="left:3716.06px;top:340.00px;font-size:13.4px;color:#1e1e1e;transform:scaleX(0.9658);">Windows-Fehler</span>
<span class="t" style="left:3716.09px;top:357.00px;font-size:13.4px;color:#1e1e1e;transform:scaleX(0.9285);">Verschiedene Fehler</span>
<span class="t" style="left:3716.07px;top:374.00px;font-size:13.4px;color:#1e1e1e;transform:scaleX(0.9536);">Warnungen</span>
<span class="t" style="left:3716.03px;top:391.00px;font-size:13.4px;color:#1e1e1e;">Informationen</span>
<span class="t" style="left:1656.89px;top:464.00px;font-size:13.4px;color:#1e1e1e;transform:scaleX(0.9314);">Zuverlässigkeitsdetails für: 29.09.2023</span>
<span class="t" style="left:1662.14px;top:488.00px;font-size:13.4px;color:#1e1e1e;transform:scaleX(0.9877);">Quelle</span>
<span class="t" style="left:1859.39px;top:488.00px;font-size:13.4px;color:#1e1e1e;transform:scaleX(0.9356);">Zusammenfassung</span>
<span class="t" style="left:2056.52px;top:488.00px;font-size:13.4px;color:#1e1e1e;transform:scaleX(1.0099);">Datum</span>
<span class="t" style="left:2176.71px;top:488.00px;font-size:13.4px;color:#1e1e1e;transform:scaleX(1.0221);">Aktion</span>
<span class="t" style="left:1684.49px;top:509.00px;font-size:13.4px;color:#1e46b8;transform:scaleX(0.9278);">Kritische Ereignisse (15)</span>
<span class="t" style="left:1696.54px;top:532.00px;font-size:13.4px;color:#1e1e1e;transform:scaleX(0.9874);">Windows</span>
<span class="t" style="left:1859.37px;top:532.00px;font-size:13.4px;color:#1e1e1e;transform:scaleX(0.9518);">Windows wurde nicht ordnungs...</span>
<span class="t" style="left:2056.61px;top:532.00px;font-size:13.4px;color:#1e1e1e;transform:scaleX(0.9088);">29.09.2023 00:42</span>
<span class="t" style="left:2176.81px;top:532.00px;font-size:13.4px;color:#1a73d6;transform:scaleX(0.9024);">Technische De...</span>
<span class="t" style="left:1696.54px;top:553.00px;font-size:13.4px;color:#1e1e1e;transform:scaleX(0.9874);">Windows</span>
<span class="t" style="left:1859.37px;top:553.00px;font-size:13.4px;color:#1e1e1e;transform:scaleX(0.9518);">Windows wurde nicht ordnungs...</span>
<span class="t" style="left:2056.61px;top:553.00px;font-size:13.4px;color:#1e1e1e;transform:scaleX(0.9088);">29.09.2023 00:46</span>
<span class="t" style="left:2176.81px;top:553.00px;font-size:13.4px;color:#1a73d6;transform:scaleX(0.9024);">Technische De...</span>
<span class="t" style="left:1696.54px;top:575.00px;font-size:13.4px;color:#1e1e1e;transform:scaleX(0.9874);">Windows</span>
<span class="t" style="left:1859.37px;top:575.00px;font-size:13.4px;color:#1e1e1e;transform:scaleX(0.9518);">Windows wurde nicht ordnungs...</span>
<span class="t" style="left:2056.61px;top:575.00px;font-size:13.4px;color:#1e1e1e;transform:scaleX(0.9088);">29.09.2023 00:47</span>
<span class="t" style="left:2176.81px;top:575.00px;font-size:13.4px;color:#1a73d6;transform:scaleX(0.9024);">Technische De...</span>
<span class="t" style="left:1696.54px;top:596.00px;font-size:13.4px;color:#1e1e1e;transform:scaleX(0.9874);">Windows</span>
<span class="t" style="left:1859.37px;top:596.00px;font-size:13.4px;color:#1e1e1e;transform:scaleX(0.9518);">Windows wurde nicht ordnungs...</span>
<span class="t" style="left:2056.61px;top:596.00px;font-size:13.4px;color:#1e1e1e;transform:scaleX(0.9088);">29.09.2023 01:45</span>
<span class="t" style="left:2176.81px;top:596.00px;font-size:13.4px;color:#1a73d6;transform:scaleX(0.9024);">Technische De...</span>
<span class="t" style="left:1696.59px;top:618.00px;font-size:13.4px;color:#1e1e1e;transform:scaleX(0.9307);">G DATA SecurityCenter</span>
<span class="t" style="left:1859.35px;top:618.00px;font-size:13.4px;color:#1e1e1e;transform:scaleX(0.9791);">Nicht mehr funktionsfähig</span>
<span class="t" style="left:2056.60px;top:618.00px;font-size:13.4px;color:#1e1e1e;transform:scaleX(0.9175);">29.09.2023 03:11</span>
<span class="t" style="left:1696.56px;top:639.00px;font-size:13.4px;color:#1e1e1e;transform:scaleX(0.9591);">NTKDaemon</span>
<span class="t" style="left:1859.35px;top:639.00px;font-size:13.4px;color:#1e1e1e;transform:scaleX(0.9791);">Nicht mehr funktionsfähig</span>
<span class="t" style="left:2056.61px;top:639.00px;font-size:13.4px;color:#1e1e1e;transform:scaleX(0.9088);">29.09.2023 12:56</span>
<span class="t" style="left:1696.54px;top:660.00px;font-size:13.4px;color:#1e1e1e;transform:scaleX(0.9874);">Windows</span>
<span class="t" style="left:1859.37px;top:660.00px;font-size:13.4px;color:#1e1e1e;transform:scaleX(0.9518);">Windows wurde nicht ordnungs...</span>
<span class="t" style="left:2056.61px;top:660.00px;font-size:13.4px;color:#1e1e1e;transform:scaleX(0.9088);">29.09.2023 15:27</span>
<span class="t" style="left:2176.81px;top:660.00px;font-size:13.4px;color:#1a73d6;transform:scaleX(0.9024);">Technische De...</span>
<span class="t" style="left:1696.60px;top:682.00px;font-size:13.4px;color:#1e1e1e;transform:scaleX(0.9217);">Reason</span>
<span class="t" style="left:1859.37px;top:682.00px;font-size:13.4px;color:#1e1e1e;transform:scaleX(0.9511);">Stopped responding and was cl...</span>
<span class="t" style="left:2056.61px;top:682.00px;font-size:13.4px;color:#1e1e1e;transform:scaleX(0.9088);">29.09.2023 17:18</span>
<span class="t" style="left:1696.60px;top:703.00px;font-size:13.4px;color:#1e1e1e;transform:scaleX(0.9217);">Reason</span>
<span class="t" style="left:1859.37px;top:703.00px;font-size:13.4px;color:#1e1e1e;transform:scaleX(0.9511);">Stopped responding and was cl...</span>
<span class="t" style="left:2056.61px;top:703.00px;font-size:13.4px;color:#1e1e1e;transform:scaleX(0.9088);">29.09.2023 17:23</span>
<span class="t" style="left:1696.54px;top:725.00px;font-size:13.4px;color:#1e1e1e;transform:scaleX(0.9874);">Windows</span>
<span class="t" style="left:1859.37px;top:725.00px;font-size:13.4px;color:#1e1e1e;transform:scaleX(0.9518);">Windows wurde nicht ordnungs...</span>
<span class="t" style="left:2056.61px;top:725.00px;font-size:13.4px;color:#1e1e1e;transform:scaleX(0.9088);">29.09.2023 18:35</span>
<span class="t" style="left:2176.81px;top:725.00px;font-size:13.4px;color:#1a73d6;transform:scaleX(0.9024);">Technische De...</span>
<span class="t" style="left:1696.54px;top:746.00px;font-size:13.4px;color:#1e1e1e;transform:scaleX(0.9874);">Windows</span>
<span class="t" style="left:1859.37px;top:746.00px;font-size:13.4px;color:#1e1e1e;transform:scaleX(0.9518);">Windows wurde nicht ordnungs...</span>
<span class="t" style="left:2056.61px;top:746.00px;font-size:13.4px;color:#1e1e1e;transform:scaleX(0.9088);">29.09.2023 19:36</span>
<span class="t" style="left:2176.81px;top:746.00px;font-size:13.4px;color:#1a73d6;transform:scaleX(0.9024);">Technische De...</span>
<span class="t" style="left:1696.54px;top:768.00px;font-size:13.4px;color:#1e1e1e;transform:scaleX(0.9874);">Windows</span>
<span class="t" style="left:1859.37px;top:768.00px;font-size:13.4px;color:#1e1e1e;transform:scaleX(0.9518);">Windows wurde nicht ordnungs...</span>
<span class="t" style="left:2056.61px;top:768.00px;font-size:13.4px;color:#1e1e1e;transform:scaleX(0.9088);">29.09.2023 20:08</span>
<span class="t" style="left:2176.81px;top:768.00px;font-size:13.4px;color:#1a73d6;transform:scaleX(0.9024);">Technische De...</span>
<span class="t" style="left:1696.54px;top:789.00px;font-size:13.4px;color:#1e1e1e;transform:scaleX(0.9874);">Windows</span>
<span class="t" style="left:1859.37px;top:789.00px;font-size:13.4px;color:#1e1e1e;transform:scaleX(0.9518);">Windows wurde nicht ordnungs...</span>
<span class="t" style="left:2056.61px;top:789.00px;font-size:13.4px;color:#1e1e1e;transform:scaleX(0.9088);">29.09.2023 20:28</span>
<span class="t" style="left:2176.81px;top:789.00px;font-size:13.4px;color:#1a73d6;transform:scaleX(0.9024);">Technische De...</span>
<span class="t" style="left:1696.54px;top:811.00px;font-size:13.4px;color:#1e1e1e;transform:scaleX(0.9874);">Windows</span>
<span class="t" style="left:1859.37px;top:811.00px;font-size:13.4px;color:#1e1e1e;transform:scaleX(0.9518);">Windows wurde nicht ordnungs...</span>
<span class="t" style="left:2056.61px;top:811.00px;font-size:13.4px;color:#1e1e1e;transform:scaleX(0.9088);">29.09.2023 23:22</span>
<span class="t" style="left:2176.81px;top:811.00px;font-size:13.4px;color:#1a73d6;transform:scaleX(0.9024);">Technische De...</span>
<span class="t" style="left:1696.54px;top:832.00px;font-size:13.4px;color:#1e1e1e;transform:scaleX(0.9874);">Windows</span>
<span class="t" style="left:1859.37px;top:832.00px;font-size:13.4px;color:#1e1e1e;transform:scaleX(0.9518);">Windows wurde nicht ordnungs...</span>
<span class="t" style="left:2056.61px;top:832.00px;font-size:13.4px;color:#1e1e1e;transform:scaleX(0.9088);">29.09.2023 23:26</span>
<span class="t" style="left:2176.81px;top:832.00px;font-size:13.4px;color:#1a73d6;transform:scaleX(0.9024);">Technische De...</span>
<span class="t" style="left:1684.46px;top:856.00px;font-size:13.4px;color:#1e46b8;transform:scaleX(0.9598);">Informationsereignisse (19)</span>
<span class="t" style="left:1696.55px;top:878.00px;font-size:13.4px;color:#1e1e1e;transform:scaleX(0.9762);">Microsoft GameInput</span>
<span class="t" style="left:1859.35px;top:878.00px;font-size:13.4px;color:#1e1e1e;transform:scaleX(0.9720);">Die Neukonfiguration der Anw...</span>
<span class="t" style="left:2056.61px;top:878.00px;font-size:13.4px;color:#1e1e1e;transform:scaleX(0.9088);">29.09.2023 00:42</span>
<span class="t" style="left:2176.81px;top:878.00px;font-size:13.4px;color:#1a73d6;transform:scaleX(0.9024);">Technische De...</span>
<span class="t" style="left:1696.55px;top:900.00px;font-size:13.4px;color:#1e1e1e;transform:scaleX(0.9762);">Microsoft GameInput</span>
<span class="t" style="left:1859.35px;top:900.00px;font-size:13.4px;color:#1e1e1e;transform:scaleX(0.9720);">Die Neukonfiguration der Anw...</span>
<span class="t" style="left:2056.61px;top:900.00px;font-size:13.4px;color:#1e1e1e;transform:scaleX(0.9088);">29.09.2023 00:47</span>
<span class="t" style="left:2176.81px;top:900.00px;font-size:13.4px;color:#1a73d6;transform:scaleX(0.9024);">Technische De...</span>
<span class="t" style="left:1696.55px;top:921.00px;font-size:13.4px;color:#1e1e1e;transform:scaleX(0.9762);">Microsoft GameInput</span>
<span class="t" style="left:1859.35px;top:921.00px;font-size:13.4px;color:#1e1e1e;transform:scaleX(0.9720);">Die Neukonfiguration der Anw...</span>
<span class="t" style="left:2056.61px;top:921.00px;font-size:13.4px;color:#1e1e1e;transform:scaleX(0.9088);">29.09.2023 01:45</span>
<span class="t" style="left:2176.81px;top:921.00px;font-size:13.4px;color:#1a73d6;transform:scaleX(0.9024);">Technische De...</span>
<span class="t" style="left:1696.55px;top:943.00px;font-size:13.4px;color:#1e1e1e;transform:scaleX(0.9762);">Microsoft GameInput</span>
<span class="t" style="left:1859.35px;top:943.00px;font-size:13.4px;color:#1e1e1e;transform:scaleX(0.9720);">Die Neukonfiguration der Anw...</span>
<span class="t" style="left:2056.61px;top:943.00px;font-size:13.4px;color:#1e1e1e;transform:scaleX(0.9088);">29.09.2023 12:56</span>
<span class="t" style="left:2176.81px;top:943.00px;font-size:13.4px;color:#1a73d6;transform:scaleX(0.9024);">Technische De...</span>
<span class="t" style="left:1696.64px;top:964.00px;font-size:13.4px;color:#1e1e1e;transform:scaleX(0.8757);">9NBLGGH10PG8-MICROS...</span>
<span class="t" style="left:1859.36px;top:964.00px;font-size:13.4px;color:#1e1e1e;transform:scaleX(0.9645);">Windows Update war erfolgrei...</span>
<span class="t" style="left:2056.60px;top:964.00px;font-size:13.4px;color:#1e1e1e;transform:scaleX(0.9175);">29.09.2023 13:11</span>
<span class="t" style="left:2176.81px;top:964.00px;font-size:13.4px;color:#1a73d6;transform:scaleX(0.9024);">Technische De...</span>
<span class="t" style="left:1696.55px;top:986.00px;font-size:13.4px;color:#1e1e1e;transform:scaleX(0.9762);">Microsoft GameInput</span>
<span class="t" style="left:1859.35px;top:986.00px;font-size:13.4px;color:#1e1e1e;transform:scaleX(0.9720);">Die Neukonfiguration der Anw...</span>
<span class="t" style="left:2056.61px;top:986.00px;font-size:13.4px;color:#1e1e1e;transform:scaleX(0.9088);">29.09.2023 15:27</span>
<span class="t" style="left:2176.81px;top:986.00px;font-size:13.4px;color:#1a73d6;transform:scaleX(0.9024);">Technische De...</span>
<span class="t" style="left:1696.55px;top:1007.00px;font-size:13.4px;color:#1e1e1e;transform:scaleX(0.9762);">Microsoft GameInput</span>
<span class="t" style="left:1859.35px;top:1007.00px;font-size:13.4px;color:#1e1e1e;transform:scaleX(0.9720);">Die Neukonfiguration der Anw...</span>
<span class="t" style="left:2056.61px;top:1007.00px;font-size:13.4px;color:#1e1e1e;transform:scaleX(0.9088);">29.09.2023 18:35</span>
<span class="t" style="left:2176.81px;top:1007.00px;font-size:13.4px;color:#1a73d6;transform:scaleX(0.9024);">Technische De...</span>
<span class="t" style="left:1696.57px;top:1028.00px;font-size:13.4px;color:#1e1e1e;transform:scaleX(0.9526);">Security Intelligence-Upd...</span>
<span class="t" style="left:1859.36px;top:1028.00px;font-size:13.4px;color:#1e1e1e;transform:scaleX(0.9645);">Windows Update war erfolgrei...</span>
<span class="t" style="left:2056.61px;top:1028.00px;font-size:13.4px;color:#1e1e1e;transform:scaleX(0.9088);">29.09.2023 18:43</span>
<span class="t" style="left:2176.81px;top:1028.00px;font-size:13.4px;color:#1a73d6;transform:scaleX(0.9024);">Technische De...</span>
<span class="t" style="left:1696.55px;top:1050.00px;font-size:13.4px;color:#1e1e1e;transform:scaleX(0.9710);">Update für Microsoft Def...</span>
<span class="t" style="left:1859.36px;top:1050.00px;font-size:13.4px;color:#1e1e1e;transform:scaleX(0.9645);">Windows Update war erfolgrei...</span>
<span class="t" style="left:2056.61px;top:1050.00px;font-size:13.4px;color:#1e1e1e;transform:scaleX(0.9088);">29.09.2023 18:52</span>
<span class="t" style="left:2176.81px;top:1050.00px;font-size:13.4px;color:#1a73d6;transform:scaleX(0.9024);">Technische De...</span>
<span class="t" style="left:1696.57px;top:1071.00px;font-size:13.4px;color:#1e1e1e;transform:scaleX(0.9526);">Security Intelligence-Upd...</span>
<span class="t" style="left:1859.36px;top:1071.00px;font-size:13.4px;color:#1e1e1e;transform:scaleX(0.9645);">Windows Update war erfolgrei...</span>
<span class="t" style="left:2056.61px;top:1071.00px;font-size:13.4px;color:#1e1e1e;transform:scaleX(0.9088);">29.09.2023 19:02</span>
<span class="t" style="left:2176.81px;top:1071.00px;font-size:13.4px;color:#1a73d6;transform:scaleX(0.9024);">Technische De...</span>
<span class="t" style="left:1696.55px;top:1093.00px;font-size:13.4px;color:#1e1e1e;transform:scaleX(0.9762);">Microsoft GameInput</span>
<span class="t" style="left:1859.35px;top:1093.00px;font-size:13.4px;color:#1e1e1e;transform:scaleX(0.9720);">Die Neukonfiguration der Anw...</span>
<span class="t" style="left:2056.60px;top:1093.00px;font-size:13.4px;color:#1e1e1e;transform:scaleX(0.9175);">29.09.2023 19:11</span>
<span class="t" style="left:2176.81px;top:1093.00px;font-size:13.4px;color:#1a73d6;transform:scaleX(0.9024);">Technische De...</span>
<span class="t" style="left:1696.55px;top:1114.00px;font-size:13.4px;color:#1e1e1e;transform:scaleX(0.9762);">Microsoft GameInput</span>
<span class="t" style="left:1859.35px;top:1114.00px;font-size:13.4px;color:#1e1e1e;transform:scaleX(0.9720);">Die Neukonfiguration der Anw...</span>
<span class="t" style="left:2056.61px;top:1114.00px;font-size:13.4px;color:#1e1e1e;transform:scaleX(0.9088);">29.09.2023 19:36</span>
<span class="t" style="left:2176.81px;top:1114.00px;font-size:13.4px;color:#1a73d6;transform:scaleX(0.9024);">Technische De...</span>
<span class="t" style="left:1696.55px;top:1136.00px;font-size:13.4px;color:#1e1e1e;transform:scaleX(0.9762);">Microsoft GameInput</span>
<span class="t" style="left:1859.35px;top:1136.00px;font-size:13.4px;color:#1e1e1e;transform:scaleX(0.9720);">Die Neukonfiguration der Anw...</span>
<span class="t" style="left:2056.61px;top:1136.00px;font-size:13.4px;color:#1e1e1e;transform:scaleX(0.9088);">29.09.2023 20:07</span>
<span class="t" style="left:2176.81px;top:1136.00px;font-size:13.4px;color:#1a73d6;transform:scaleX(0.9024);">Technische De...</span>
<span class="t" style="left:1677.89px;top:1169.00px;font-size:13.4px;color:#1a73d6;transform:scaleX(0.9278);">Zuverlässigkeitsverlauf speichern...</span>
<span class="t" style="left:1892.65px;top:1169.00px;font-size:13.4px;color:#1a73d6;transform:scaleX(0.9715);">Alle Problemberichte anzeigen</span>
<span class="t" style="left:3782.23px;top:1173.00px;font-size:13.4px;color:#1e1e1e;transform:scaleX(0.9629);">OK</span>
<span class="t" style="left:1727.18px;top:1212.00px;font-size:16.7px;color:#d9d9d9;transform:scaleX(0.9417);">Suche</span>
<span class="t" style="left:1985.94px;top:1222.00px;font-size:5.22px;color:#9fb2bb;">H</span>
<span class="t b" style="left:2016.45px;top:1215.00px;font-size:8.351999999999999px;color:#fff;">T</span>
<span class="t" style="left:3745.27px;top:1214.00px;font-size:12.8px;color:#fff;transform:scaleX(0.9979);">01:13</span>
<span class="t" style="left:81.75px;top:916.00px;font-size:4.2px;color:#9fb2bb;">H</span>
<span class="t b" style="left:106.31px;top:911.00px;font-size:6.72px;color:#fff;">T</span>
<span class="t" style="left:1616.77px;top:909.00px;font-size:10.3px;color:#fff;transform:scaleX(0.9479);">01:13</span>
</body></html>
